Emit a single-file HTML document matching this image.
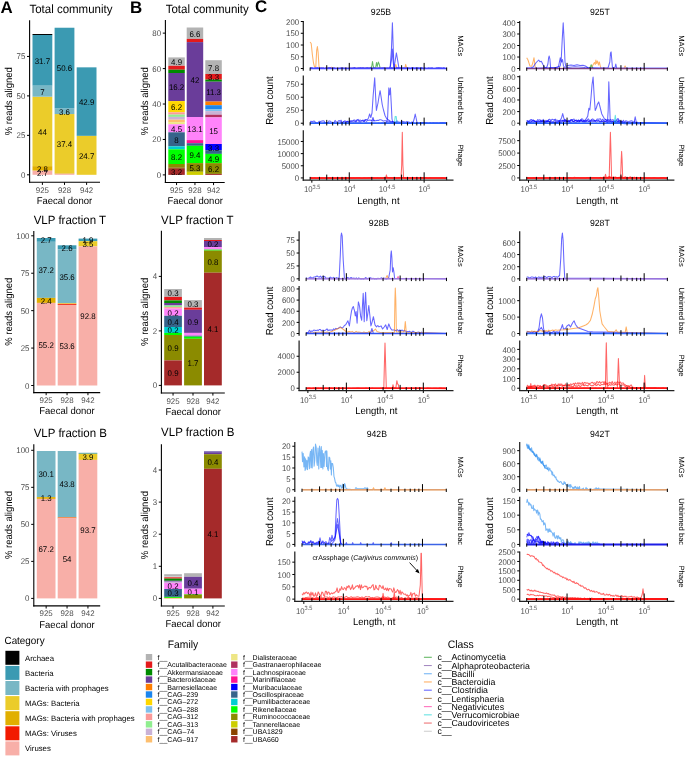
<!DOCTYPE html>
<html><head><meta charset="utf-8"><style>html,body{margin:0;padding:0;background:#fff;}body{width:685px;height:761px;overflow:hidden;position:relative;}text{font-family:"Liberation Sans", sans-serif;}</style></head><body>
<svg width="685" height="761" viewBox="0 0 685 761" text-rendering="geometricPrecision" style="position:absolute;left:0;top:0;will-change:transform;font-family:'Liberation Sans', sans-serif">
<rect width="685" height="761" fill="#fff"/>
<text x="0.50" y="12.50" font-size="16.9" font-weight="bold">A</text>
<text x="130.00" y="12.50" font-size="16.9" font-weight="bold">B</text>
<text x="255.10" y="12.35" font-size="16.9" font-weight="bold">C</text>
<text transform="translate(29.40 13.00) scale(1 1.045)" font-size="11.5">Total community</text>
<rect x="32.50" y="170.54" width="19.80" height="4.26" fill="#F8AFA8"/>
<rect x="32.50" y="166.12" width="19.80" height="4.42" fill="#E1AF00"/>
<rect x="32.50" y="96.69" width="19.80" height="69.43" fill="#EBCC2A"/>
<rect x="32.50" y="85.64" width="19.80" height="11.05" fill="#78B7C5"/>
<rect x="32.50" y="34.99" width="19.80" height="50.65" fill="#3B9AB2"/>
<rect x="32.50" y="34.00" width="19.80" height="0.99" fill="#000000"/>
<text transform="translate(42.40 176.07) scale(1 1.04)" font-size="7.9" text-anchor="middle">2.7</text>
<text transform="translate(42.40 171.73) scale(1 1.04)" font-size="7.9" text-anchor="middle">2.8</text>
<text transform="translate(42.40 134.81) scale(1 1.04)" font-size="7.9" text-anchor="middle">44</text>
<text transform="translate(42.40 94.57) scale(1 1.04)" font-size="7.9" text-anchor="middle">7</text>
<text transform="translate(42.40 63.72) scale(1 1.04)" font-size="7.9" text-anchor="middle">31.7</text>
<rect x="54.60" y="173.54" width="19.80" height="1.26" fill="#F8AFA8"/>
<rect x="54.60" y="173.06" width="19.80" height="0.47" fill="#E1AF00"/>
<rect x="54.60" y="114.05" width="19.80" height="59.02" fill="#EBCC2A"/>
<rect x="54.60" y="108.37" width="19.80" height="5.68" fill="#78B7C5"/>
<rect x="54.60" y="27.73" width="19.80" height="80.64" fill="#3B9AB2"/>
<text transform="translate(64.50 146.96) scale(1 1.04)" font-size="7.9" text-anchor="middle">37.4</text>
<text transform="translate(64.50 114.61) scale(1 1.04)" font-size="7.9" text-anchor="middle">3.6</text>
<text transform="translate(64.50 71.45) scale(1 1.04)" font-size="7.9" text-anchor="middle">50.6</text>
<rect x="76.70" y="135.82" width="19.80" height="38.98" fill="#EBCC2A"/>
<rect x="76.70" y="67.34" width="19.80" height="68.49" fill="#3B9AB2"/>
<text transform="translate(86.60 158.72) scale(1 1.04)" font-size="7.9" text-anchor="middle">24.7</text>
<text transform="translate(86.60 104.99) scale(1 1.04)" font-size="7.9" text-anchor="middle">42.9</text>
<line x1="29.60" y1="20.20" x2="29.60" y2="182.85" stroke="#000" stroke-width="1.1"/>
<line x1="29.05" y1="182.30" x2="100.00" y2="182.30" stroke="#000" stroke-width="1.1"/>
<line x1="27.00" y1="174.80" x2="29.60" y2="174.80" stroke="#000" stroke-width="1.0"/>
<text transform="translate(25.30 177.80) scale(1 1.05)" font-size="7.9" text-anchor="end" fill="#4d4d4d">0</text>
<line x1="27.00" y1="135.35" x2="29.60" y2="135.35" stroke="#000" stroke-width="1.0"/>
<text transform="translate(25.30 138.35) scale(1 1.05)" font-size="7.9" text-anchor="end" fill="#4d4d4d">25</text>
<line x1="27.00" y1="95.90" x2="29.60" y2="95.90" stroke="#000" stroke-width="1.0"/>
<text transform="translate(25.30 98.90) scale(1 1.05)" font-size="7.9" text-anchor="end" fill="#4d4d4d">50</text>
<line x1="27.00" y1="56.45" x2="29.60" y2="56.45" stroke="#000" stroke-width="1.0"/>
<text transform="translate(25.30 59.45) scale(1 1.05)" font-size="7.9" text-anchor="end" fill="#4d4d4d">75</text>
<line x1="42.40" y1="182.30" x2="42.40" y2="184.90" stroke="#000" stroke-width="1.0"/>
<text transform="translate(42.40 192.80) scale(1 1.03)" font-size="7.9" text-anchor="middle" fill="#4d4d4d">925</text>
<line x1="64.50" y1="182.30" x2="64.50" y2="184.90" stroke="#000" stroke-width="1.0"/>
<text transform="translate(64.50 192.80) scale(1 1.03)" font-size="7.9" text-anchor="middle" fill="#4d4d4d">928</text>
<line x1="86.60" y1="182.30" x2="86.60" y2="184.90" stroke="#000" stroke-width="1.0"/>
<text transform="translate(86.60 192.80) scale(1 1.03)" font-size="7.9" text-anchor="middle" fill="#4d4d4d">942</text>
<text transform="translate(64.40 203.90) scale(1 1.04)" font-size="9.5" text-anchor="middle">Faecal donor</text>
<text transform="translate(12.20 101.25) rotate(-90) scale(1 1.06)" font-size="9.5" text-anchor="middle">% reads aligned</text>
<text transform="translate(33.70 223.50) scale(1 1.045)" font-size="11.5">VLP fraction T</text>
<rect x="36.80" y="238.00" width="18.70" height="3.80" fill="#3B9AB2"/>
<rect x="36.80" y="241.80" width="18.70" height="56.10" fill="#78B7C5"/>
<rect x="36.80" y="297.90" width="18.70" height="5.00" fill="#E1AF00"/>
<rect x="36.80" y="302.90" width="18.70" height="82.60" fill="#F8AFA8"/>
<text transform="translate(46.15 243.30) scale(1 1.04)" font-size="7.9" text-anchor="middle">2.7</text>
<text transform="translate(46.15 273.25) scale(1 1.04)" font-size="7.9" text-anchor="middle">37.2</text>
<text transform="translate(46.15 303.80) scale(1 1.04)" font-size="7.9" text-anchor="middle">2.4</text>
<text transform="translate(46.15 347.60) scale(1 1.04)" font-size="7.9" text-anchor="middle">55.2</text>
<rect x="57.70" y="245.30" width="18.70" height="4.10" fill="#3B9AB2"/>
<rect x="57.70" y="249.40" width="18.70" height="53.80" fill="#78B7C5"/>
<rect x="57.70" y="303.20" width="18.70" height="0.70" fill="#EBCC2A"/>
<rect x="57.70" y="303.90" width="18.70" height="1.00" fill="#F21A00"/>
<rect x="57.70" y="304.90" width="18.70" height="80.60" fill="#F8AFA8"/>
<text transform="translate(67.05 250.75) scale(1 1.04)" font-size="7.9" text-anchor="middle">2.6</text>
<text transform="translate(67.05 279.70) scale(1 1.04)" font-size="7.9" text-anchor="middle">35.6</text>
<text transform="translate(67.05 348.60) scale(1 1.04)" font-size="7.9" text-anchor="middle">53.6</text>
<rect x="78.60" y="238.60" width="18.70" height="2.60" fill="#3B9AB2"/>
<rect x="78.60" y="241.20" width="18.70" height="5.20" fill="#EBCC2A"/>
<rect x="78.60" y="246.40" width="18.70" height="139.10" fill="#F8AFA8"/>
<text transform="translate(87.95 243.30) scale(1 1.04)" font-size="7.9" text-anchor="middle">1.9</text>
<text transform="translate(87.95 247.20) scale(1 1.04)" font-size="7.9" text-anchor="middle">3.5</text>
<text transform="translate(87.95 319.35) scale(1 1.04)" font-size="7.9" text-anchor="middle">92.8</text>
<line x1="33.80" y1="231.00" x2="33.80" y2="393.15" stroke="#000" stroke-width="1.1"/>
<line x1="33.25" y1="392.60" x2="100.20" y2="392.60" stroke="#000" stroke-width="1.1"/>
<line x1="31.20" y1="385.50" x2="33.80" y2="385.50" stroke="#000" stroke-width="1.0"/>
<text transform="translate(29.50 388.50) scale(1 1.05)" font-size="7.9" text-anchor="end" fill="#4d4d4d">0</text>
<line x1="31.20" y1="348.07" x2="33.80" y2="348.07" stroke="#000" stroke-width="1.0"/>
<text transform="translate(29.50 351.08) scale(1 1.05)" font-size="7.9" text-anchor="end" fill="#4d4d4d">25</text>
<line x1="31.20" y1="310.65" x2="33.80" y2="310.65" stroke="#000" stroke-width="1.0"/>
<text transform="translate(29.50 313.65) scale(1 1.05)" font-size="7.9" text-anchor="end" fill="#4d4d4d">50</text>
<line x1="31.20" y1="273.23" x2="33.80" y2="273.23" stroke="#000" stroke-width="1.0"/>
<text transform="translate(29.50 276.23) scale(1 1.05)" font-size="7.9" text-anchor="end" fill="#4d4d4d">75</text>
<line x1="31.20" y1="235.80" x2="33.80" y2="235.80" stroke="#000" stroke-width="1.0"/>
<text transform="translate(29.50 238.80) scale(1 1.05)" font-size="7.9" text-anchor="end" fill="#4d4d4d">100</text>
<line x1="46.15" y1="392.60" x2="46.15" y2="395.20" stroke="#000" stroke-width="1.0"/>
<text transform="translate(46.15 403.10) scale(1 1.03)" font-size="7.9" text-anchor="middle" fill="#4d4d4d">925</text>
<line x1="67.05" y1="392.60" x2="67.05" y2="395.20" stroke="#000" stroke-width="1.0"/>
<text transform="translate(67.05 403.10) scale(1 1.03)" font-size="7.9" text-anchor="middle" fill="#4d4d4d">928</text>
<line x1="87.95" y1="392.60" x2="87.95" y2="395.20" stroke="#000" stroke-width="1.0"/>
<text transform="translate(87.95 403.10) scale(1 1.03)" font-size="7.9" text-anchor="middle" fill="#4d4d4d">942</text>
<text transform="translate(67.00 414.20) scale(1 1.04)" font-size="9.5" text-anchor="middle">Faecal donor</text>
<text transform="translate(12.20 311.80) rotate(-90) scale(1 1.06)" font-size="9.5" text-anchor="middle">% reads aligned</text>
<text transform="translate(33.70 436.60) scale(1 1.045)" font-size="11.5">VLP fraction B</text>
<rect x="36.80" y="451.00" width="18.70" height="46.10" fill="#78B7C5"/>
<rect x="36.80" y="497.10" width="18.70" height="1.80" fill="#E1AF00"/>
<rect x="36.80" y="498.90" width="18.70" height="99.50" fill="#F8AFA8"/>
<text transform="translate(46.15 477.45) scale(1 1.04)" font-size="7.9" text-anchor="middle">30.1</text>
<text transform="translate(46.15 501.40) scale(1 1.04)" font-size="7.9" text-anchor="middle">1.3</text>
<text transform="translate(46.15 552.05) scale(1 1.04)" font-size="7.9" text-anchor="middle">67.2</text>
<rect x="57.70" y="451.00" width="18.70" height="66.10" fill="#78B7C5"/>
<rect x="57.70" y="517.10" width="18.70" height="0.50" fill="#EBCC2A"/>
<rect x="57.70" y="517.60" width="18.70" height="0.70" fill="#F21A00"/>
<rect x="57.70" y="518.30" width="18.70" height="80.10" fill="#F8AFA8"/>
<text transform="translate(67.05 487.45) scale(1 1.04)" font-size="7.9" text-anchor="middle">43.8</text>
<text transform="translate(67.05 561.75) scale(1 1.04)" font-size="7.9" text-anchor="middle">54</text>
<rect x="78.60" y="452.80" width="18.70" height="1.00" fill="#3B9AB2"/>
<rect x="78.60" y="453.80" width="18.70" height="6.10" fill="#EBCC2A"/>
<rect x="78.60" y="459.90" width="18.70" height="138.50" fill="#F8AFA8"/>
<text transform="translate(87.95 460.25) scale(1 1.04)" font-size="7.9" text-anchor="middle">3.9</text>
<text transform="translate(87.95 532.55) scale(1 1.04)" font-size="7.9" text-anchor="middle">93.7</text>
<line x1="33.80" y1="444.20" x2="33.80" y2="606.45" stroke="#000" stroke-width="1.1"/>
<line x1="33.25" y1="605.90" x2="100.20" y2="605.90" stroke="#000" stroke-width="1.1"/>
<line x1="31.20" y1="598.40" x2="33.80" y2="598.40" stroke="#000" stroke-width="1.0"/>
<text transform="translate(29.50 601.40) scale(1 1.05)" font-size="7.9" text-anchor="end" fill="#4d4d4d">0</text>
<line x1="31.20" y1="561.38" x2="33.80" y2="561.38" stroke="#000" stroke-width="1.0"/>
<text transform="translate(29.50 564.38) scale(1 1.05)" font-size="7.9" text-anchor="end" fill="#4d4d4d">25</text>
<line x1="31.20" y1="524.35" x2="33.80" y2="524.35" stroke="#000" stroke-width="1.0"/>
<text transform="translate(29.50 527.35) scale(1 1.05)" font-size="7.9" text-anchor="end" fill="#4d4d4d">50</text>
<line x1="31.20" y1="487.32" x2="33.80" y2="487.32" stroke="#000" stroke-width="1.0"/>
<text transform="translate(29.50 490.33) scale(1 1.05)" font-size="7.9" text-anchor="end" fill="#4d4d4d">75</text>
<line x1="31.20" y1="450.30" x2="33.80" y2="450.30" stroke="#000" stroke-width="1.0"/>
<text transform="translate(29.50 453.30) scale(1 1.05)" font-size="7.9" text-anchor="end" fill="#4d4d4d">100</text>
<line x1="46.15" y1="605.90" x2="46.15" y2="608.50" stroke="#000" stroke-width="1.0"/>
<text transform="translate(46.15 616.40) scale(1 1.03)" font-size="7.9" text-anchor="middle" fill="#4d4d4d">925</text>
<line x1="67.05" y1="605.90" x2="67.05" y2="608.50" stroke="#000" stroke-width="1.0"/>
<text transform="translate(67.05 616.40) scale(1 1.03)" font-size="7.9" text-anchor="middle" fill="#4d4d4d">928</text>
<line x1="87.95" y1="605.90" x2="87.95" y2="608.50" stroke="#000" stroke-width="1.0"/>
<text transform="translate(87.95 616.40) scale(1 1.03)" font-size="7.9" text-anchor="middle" fill="#4d4d4d">942</text>
<text transform="translate(67.00 627.50) scale(1 1.04)" font-size="9.5" text-anchor="middle">Faecal donor</text>
<text transform="translate(12.20 525.05) rotate(-90) scale(1 1.06)" font-size="9.5" text-anchor="middle">% reads aligned</text>
<text transform="translate(165.70 13.00) scale(1 1.045)" font-size="11.5">Total community</text>
<rect x="168.30" y="57.40" width="16.50" height="8.40" fill="#b3b3b3"/>
<rect x="168.30" y="65.80" width="16.50" height="3.90" fill="#E31A1C"/>
<rect x="168.30" y="69.70" width="16.50" height="3.30" fill="#008b00"/>
<rect x="168.30" y="73.00" width="16.50" height="28.10" fill="#6A3D9A"/>
<rect x="168.30" y="101.10" width="16.50" height="11.20" fill="#ffd700"/>
<rect x="168.30" y="112.30" width="16.50" height="2.30" fill="#FB9A99"/>
<rect x="168.30" y="114.60" width="16.50" height="2.30" fill="#90ee90"/>
<rect x="168.30" y="116.90" width="16.50" height="2.80" fill="#CAB2D6"/>
<rect x="168.30" y="119.70" width="16.50" height="2.40" fill="#FDBF6F"/>
<rect x="168.30" y="122.10" width="16.50" height="2.20" fill="#eee685"/>
<rect x="168.30" y="124.30" width="16.50" height="8.00" fill="#ff83fa"/>
<rect x="168.30" y="132.30" width="16.50" height="14.00" fill="#36648b"/>
<rect x="168.30" y="146.30" width="16.50" height="3.00" fill="#00ced1"/>
<rect x="168.30" y="149.30" width="16.50" height="14.70" fill="#00ff00"/>
<rect x="168.30" y="164.00" width="16.50" height="3.70" fill="#8b8b00"/>
<rect x="168.30" y="167.70" width="16.50" height="1.10" fill="#8b4500"/>
<rect x="168.30" y="168.80" width="16.50" height="6.10" fill="#a52a2a"/>
<text transform="translate(176.55 65.00) scale(1 1.04)" font-size="7.9" text-anchor="middle">4.9</text>
<text transform="translate(176.55 90.45) scale(1 1.04)" font-size="7.9" text-anchor="middle">16.2</text>
<text transform="translate(176.55 110.10) scale(1 1.04)" font-size="7.9" text-anchor="middle">6.2</text>
<text transform="translate(176.55 131.70) scale(1 1.04)" font-size="7.9" text-anchor="middle">4.5</text>
<text transform="translate(176.55 142.70) scale(1 1.04)" font-size="7.9" text-anchor="middle">8</text>
<text transform="translate(176.55 160.05) scale(1 1.04)" font-size="7.9" text-anchor="middle">8.2</text>
<text transform="translate(176.55 175.25) scale(1 1.04)" font-size="7.9" text-anchor="middle">3.2</text>
<rect x="186.70" y="27.50" width="16.50" height="11.40" fill="#b3b3b3"/>
<rect x="186.70" y="38.90" width="16.50" height="3.20" fill="#E31A1C"/>
<rect x="186.70" y="42.10" width="16.50" height="74.90" fill="#6A3D9A"/>
<rect x="186.70" y="117.00" width="16.50" height="23.10" fill="#ff83fa"/>
<rect x="186.70" y="140.10" width="16.50" height="3.10" fill="#ff1493"/>
<rect x="186.70" y="143.20" width="16.50" height="2.60" fill="#36648b"/>
<rect x="186.70" y="145.80" width="16.50" height="17.30" fill="#00ff00"/>
<rect x="186.70" y="163.10" width="16.50" height="8.70" fill="#8b8b00"/>
<rect x="186.70" y="171.80" width="16.50" height="3.10" fill="#cdcd00"/>
<text transform="translate(194.95 36.60) scale(1 1.04)" font-size="7.9" text-anchor="middle">6.6</text>
<text transform="translate(194.95 82.95) scale(1 1.04)" font-size="7.9" text-anchor="middle">42</text>
<text transform="translate(194.95 131.95) scale(1 1.04)" font-size="7.9" text-anchor="middle">13.1</text>
<text transform="translate(194.95 157.85) scale(1 1.04)" font-size="7.9" text-anchor="middle">9.4</text>
<text transform="translate(194.95 170.85) scale(1 1.04)" font-size="7.9" text-anchor="middle">5.3</text>
<rect x="205.30" y="60.20" width="16.50" height="13.80" fill="#b3b3b3"/>
<rect x="205.30" y="74.00" width="16.50" height="5.60" fill="#E31A1C"/>
<rect x="205.30" y="79.60" width="16.50" height="2.10" fill="#008b00"/>
<rect x="205.30" y="81.70" width="16.50" height="19.90" fill="#6A3D9A"/>
<rect x="205.30" y="101.60" width="16.50" height="3.60" fill="#FF7F00"/>
<rect x="205.30" y="105.20" width="16.50" height="3.90" fill="#1c86ee"/>
<rect x="205.30" y="109.10" width="16.50" height="2.00" fill="#7ec0ee"/>
<rect x="205.30" y="111.10" width="16.50" height="3.60" fill="#CAB2D6"/>
<rect x="205.30" y="114.70" width="16.50" height="2.70" fill="#b03060"/>
<rect x="205.30" y="117.40" width="16.50" height="26.60" fill="#ff83fa"/>
<rect x="205.30" y="144.00" width="16.50" height="6.20" fill="#0000ff"/>
<rect x="205.30" y="150.20" width="16.50" height="3.70" fill="#36648b"/>
<rect x="205.30" y="153.90" width="16.50" height="9.20" fill="#00ff00"/>
<rect x="205.30" y="163.10" width="16.50" height="10.80" fill="#8b8b00"/>
<rect x="205.30" y="173.90" width="16.50" height="1.00" fill="#a52a2a"/>
<text transform="translate(213.55 70.50) scale(1 1.04)" font-size="7.9" text-anchor="middle">7.8</text>
<text transform="translate(213.55 80.20) scale(1 1.04)" font-size="7.9" text-anchor="middle">3.3</text>
<text transform="translate(213.55 95.05) scale(1 1.04)" font-size="7.9" text-anchor="middle">11.3</text>
<text transform="translate(213.55 134.10) scale(1 1.04)" font-size="7.9" text-anchor="middle">15</text>
<text transform="translate(213.55 150.50) scale(1 1.04)" font-size="7.9" text-anchor="middle">3.3</text>
<text transform="translate(213.55 161.90) scale(1 1.04)" font-size="7.9" text-anchor="middle">4.9</text>
<text transform="translate(213.55 171.90) scale(1 1.04)" font-size="7.9" text-anchor="middle">6.2</text>
<line x1="165.40" y1="19.90" x2="165.40" y2="183.05" stroke="#000" stroke-width="1.1"/>
<line x1="164.85" y1="182.50" x2="224.70" y2="182.50" stroke="#000" stroke-width="1.1"/>
<line x1="162.80" y1="174.90" x2="165.40" y2="174.90" stroke="#000" stroke-width="1.0"/>
<text transform="translate(161.10 177.90) scale(1 1.05)" font-size="7.9" text-anchor="end" fill="#4d4d4d">0</text>
<line x1="162.80" y1="139.46" x2="165.40" y2="139.46" stroke="#000" stroke-width="1.0"/>
<text transform="translate(161.10 142.46) scale(1 1.05)" font-size="7.9" text-anchor="end" fill="#4d4d4d">20</text>
<line x1="162.80" y1="104.02" x2="165.40" y2="104.02" stroke="#000" stroke-width="1.0"/>
<text transform="translate(161.10 107.02) scale(1 1.05)" font-size="7.9" text-anchor="end" fill="#4d4d4d">40</text>
<line x1="162.80" y1="68.58" x2="165.40" y2="68.58" stroke="#000" stroke-width="1.0"/>
<text transform="translate(161.10 71.58) scale(1 1.05)" font-size="7.9" text-anchor="end" fill="#4d4d4d">60</text>
<line x1="162.80" y1="33.14" x2="165.40" y2="33.14" stroke="#000" stroke-width="1.0"/>
<text transform="translate(161.10 36.14) scale(1 1.05)" font-size="7.9" text-anchor="end" fill="#4d4d4d">80</text>
<line x1="176.55" y1="182.50" x2="176.55" y2="185.10" stroke="#000" stroke-width="1.0"/>
<text transform="translate(176.55 192.90) scale(1 1.03)" font-size="7.9" text-anchor="middle" fill="#4d4d4d">925</text>
<line x1="194.95" y1="182.50" x2="194.95" y2="185.10" stroke="#000" stroke-width="1.0"/>
<text transform="translate(194.95 192.90) scale(1 1.03)" font-size="7.9" text-anchor="middle" fill="#4d4d4d">928</text>
<line x1="213.55" y1="182.50" x2="213.55" y2="185.10" stroke="#000" stroke-width="1.0"/>
<text transform="translate(213.55 192.90) scale(1 1.03)" font-size="7.9" text-anchor="middle" fill="#4d4d4d">942</text>
<text transform="translate(195.10 204.00) scale(1 1.04)" font-size="9.5" text-anchor="middle">Faecal donor</text>
<text transform="translate(147.90 101.20) rotate(-90) scale(1 1.06)" font-size="9.5" text-anchor="middle">% reads aligned</text>
<text transform="translate(161.10 223.60) scale(1 1.045)" font-size="11.5">VLP fraction T</text>
<rect x="164.20" y="289.00" width="17.70" height="7.90" fill="#b3b3b3"/>
<rect x="164.20" y="296.90" width="17.70" height="3.50" fill="#E31A1C"/>
<rect x="164.20" y="300.40" width="17.70" height="2.60" fill="#008b00"/>
<rect x="164.20" y="303.00" width="17.70" height="2.50" fill="#6A3D9A"/>
<rect x="164.20" y="305.50" width="17.70" height="1.60" fill="#90ee90"/>
<rect x="164.20" y="307.10" width="17.70" height="1.50" fill="#FB9A99"/>
<rect x="164.20" y="308.60" width="17.70" height="7.20" fill="#ff83fa"/>
<rect x="164.20" y="315.80" width="17.70" height="11.20" fill="#36648b"/>
<rect x="164.20" y="327.00" width="17.70" height="5.90" fill="#00ced1"/>
<rect x="164.20" y="332.90" width="17.70" height="2.10" fill="#00ff00"/>
<rect x="164.20" y="335.00" width="17.70" height="25.40" fill="#8b8b00"/>
<rect x="164.20" y="360.40" width="17.70" height="25.00" fill="#a52a2a"/>
<text transform="translate(173.05 296.35) scale(1 1.04)" font-size="7.9" text-anchor="middle">0.3</text>
<text transform="translate(173.05 315.60) scale(1 1.04)" font-size="7.9" text-anchor="middle">0.2</text>
<text transform="translate(173.05 324.80) scale(1 1.04)" font-size="7.9" text-anchor="middle">0.4</text>
<text transform="translate(173.05 333.35) scale(1 1.04)" font-size="7.9" text-anchor="middle">0.2</text>
<text transform="translate(173.05 351.10) scale(1 1.04)" font-size="7.9" text-anchor="middle">0.9</text>
<text transform="translate(173.05 376.30) scale(1 1.04)" font-size="7.9" text-anchor="middle">0.9</text>
<rect x="184.10" y="300.10" width="17.80" height="7.50" fill="#b3b3b3"/>
<rect x="184.10" y="307.60" width="17.80" height="2.20" fill="#E31A1C"/>
<rect x="184.10" y="309.80" width="17.80" height="23.10" fill="#6A3D9A"/>
<rect x="184.10" y="332.90" width="17.80" height="2.80" fill="#ff83fa"/>
<rect x="184.10" y="335.70" width="17.80" height="1.00" fill="#36648b"/>
<rect x="184.10" y="336.70" width="17.80" height="2.10" fill="#00ff00"/>
<rect x="184.10" y="338.80" width="17.80" height="46.60" fill="#8b8b00"/>
<text transform="translate(193.00 307.25) scale(1 1.04)" font-size="7.9" text-anchor="middle">0.3</text>
<text transform="translate(193.00 324.75) scale(1 1.04)" font-size="7.9" text-anchor="middle">0.9</text>
<text transform="translate(193.00 365.50) scale(1 1.04)" font-size="7.9" text-anchor="middle">1.7</text>
<rect x="204.00" y="238.00" width="17.80" height="2.00" fill="#b3b3b3"/>
<rect x="204.00" y="240.00" width="17.80" height="1.00" fill="#E31A1C"/>
<rect x="204.00" y="241.00" width="17.80" height="6.10" fill="#6A3D9A"/>
<rect x="204.00" y="247.10" width="17.80" height="2.50" fill="#ff83fa"/>
<rect x="204.00" y="249.60" width="17.80" height="1.00" fill="#00ff00"/>
<rect x="204.00" y="250.60" width="17.80" height="22.10" fill="#8b8b00"/>
<rect x="204.00" y="272.70" width="17.80" height="112.70" fill="#a52a2a"/>
<text transform="translate(212.90 247.45) scale(1 1.04)" font-size="7.9" text-anchor="middle">0.2</text>
<text transform="translate(212.90 265.05) scale(1 1.04)" font-size="7.9" text-anchor="middle">0.8</text>
<text transform="translate(212.90 332.45) scale(1 1.04)" font-size="7.9" text-anchor="middle">4.1</text>
<line x1="161.40" y1="230.70" x2="161.40" y2="393.55" stroke="#000" stroke-width="1.1"/>
<line x1="160.85" y1="393.00" x2="224.80" y2="393.00" stroke="#000" stroke-width="1.1"/>
<line x1="158.80" y1="385.40" x2="161.40" y2="385.40" stroke="#000" stroke-width="1.0"/>
<text transform="translate(157.10 388.40) scale(1 1.05)" font-size="7.9" text-anchor="end" fill="#4d4d4d">0</text>
<line x1="158.80" y1="330.90" x2="161.40" y2="330.90" stroke="#000" stroke-width="1.0"/>
<text transform="translate(157.10 333.90) scale(1 1.05)" font-size="7.9" text-anchor="end" fill="#4d4d4d">2</text>
<line x1="158.80" y1="276.40" x2="161.40" y2="276.40" stroke="#000" stroke-width="1.0"/>
<text transform="translate(157.10 279.40) scale(1 1.05)" font-size="7.9" text-anchor="end" fill="#4d4d4d">4</text>
<line x1="173.05" y1="393.00" x2="173.05" y2="395.60" stroke="#000" stroke-width="1.0"/>
<text transform="translate(173.05 403.50) scale(1 1.03)" font-size="7.9" text-anchor="middle" fill="#4d4d4d">925</text>
<line x1="193.00" y1="393.00" x2="193.00" y2="395.60" stroke="#000" stroke-width="1.0"/>
<text transform="translate(193.00 403.50) scale(1 1.03)" font-size="7.9" text-anchor="middle" fill="#4d4d4d">928</text>
<line x1="212.90" y1="393.00" x2="212.90" y2="395.60" stroke="#000" stroke-width="1.0"/>
<text transform="translate(212.90 403.50) scale(1 1.03)" font-size="7.9" text-anchor="middle" fill="#4d4d4d">942</text>
<text transform="translate(193.20 414.60) scale(1 1.04)" font-size="9.5" text-anchor="middle">Faecal donor</text>
<text transform="translate(147.90 311.85) rotate(-90) scale(1 1.06)" font-size="9.5" text-anchor="middle">% reads aligned</text>
<text transform="translate(161.10 436.40) scale(1 1.045)" font-size="11.5">VLP fraction B</text>
<rect x="164.20" y="574.20" width="17.70" height="2.60" fill="#b3b3b3"/>
<rect x="164.20" y="576.80" width="17.70" height="0.50" fill="#ffffff"/>
<rect x="164.20" y="577.30" width="17.70" height="1.30" fill="#E31A1C"/>
<rect x="164.20" y="578.60" width="17.70" height="2.20" fill="#008b00"/>
<rect x="164.20" y="580.80" width="17.70" height="0.90" fill="#6A3D9A"/>
<rect x="164.20" y="581.70" width="17.70" height="1.20" fill="#CAB2D6"/>
<rect x="164.20" y="582.90" width="17.70" height="6.10" fill="#ff83fa"/>
<rect x="164.20" y="589.00" width="17.70" height="7.90" fill="#36648b"/>
<rect x="164.20" y="596.90" width="17.70" height="1.00" fill="#00ff00"/>
<rect x="164.20" y="597.90" width="17.70" height="0.50" fill="#FF7F00"/>
<text transform="translate(173.05 589.35) scale(1 1.04)" font-size="7.9" text-anchor="middle">0.2</text>
<text transform="translate(173.05 596.35) scale(1 1.04)" font-size="7.9" text-anchor="middle">0.3</text>
<rect x="184.10" y="573.20" width="17.80" height="3.60" fill="#b3b3b3"/>
<rect x="184.10" y="576.80" width="17.80" height="11.90" fill="#6A3D9A"/>
<rect x="184.10" y="588.70" width="17.80" height="5.40" fill="#ff83fa"/>
<rect x="184.10" y="594.10" width="17.80" height="0.50" fill="#00ff00"/>
<rect x="184.10" y="594.60" width="17.80" height="3.80" fill="#8b8b00"/>
<text transform="translate(193.00 586.15) scale(1 1.04)" font-size="7.9" text-anchor="middle">0.4</text>
<text transform="translate(193.00 594.80) scale(1 1.04)" font-size="7.9" text-anchor="middle">0.1</text>
<rect x="204.00" y="451.40" width="17.80" height="1.30" fill="#4b2f9a"/>
<rect x="204.00" y="452.70" width="17.80" height="1.50" fill="#6A3D9A"/>
<rect x="204.00" y="454.20" width="17.80" height="14.60" fill="#8b8b00"/>
<rect x="204.00" y="468.80" width="17.80" height="129.60" fill="#a52a2a"/>
<text transform="translate(212.90 464.90) scale(1 1.04)" font-size="7.9" text-anchor="middle">0.4</text>
<text transform="translate(212.90 537.00) scale(1 1.04)" font-size="7.9" text-anchor="middle">4.1</text>
<line x1="161.40" y1="444.20" x2="161.40" y2="606.55" stroke="#000" stroke-width="1.1"/>
<line x1="160.85" y1="606.00" x2="224.80" y2="606.00" stroke="#000" stroke-width="1.1"/>
<line x1="158.80" y1="598.40" x2="161.40" y2="598.40" stroke="#000" stroke-width="1.0"/>
<text transform="translate(157.10 601.40) scale(1 1.05)" font-size="7.9" text-anchor="end" fill="#4d4d4d">0</text>
<line x1="158.80" y1="566.30" x2="161.40" y2="566.30" stroke="#000" stroke-width="1.0"/>
<text transform="translate(157.10 569.30) scale(1 1.05)" font-size="7.9" text-anchor="end" fill="#4d4d4d">1</text>
<line x1="158.80" y1="534.20" x2="161.40" y2="534.20" stroke="#000" stroke-width="1.0"/>
<text transform="translate(157.10 537.20) scale(1 1.05)" font-size="7.9" text-anchor="end" fill="#4d4d4d">2</text>
<line x1="158.80" y1="502.10" x2="161.40" y2="502.10" stroke="#000" stroke-width="1.0"/>
<text transform="translate(157.10 505.10) scale(1 1.05)" font-size="7.9" text-anchor="end" fill="#4d4d4d">3</text>
<line x1="158.80" y1="470.00" x2="161.40" y2="470.00" stroke="#000" stroke-width="1.0"/>
<text transform="translate(157.10 473.00) scale(1 1.05)" font-size="7.9" text-anchor="end" fill="#4d4d4d">4</text>
<line x1="173.05" y1="606.00" x2="173.05" y2="608.60" stroke="#000" stroke-width="1.0"/>
<text transform="translate(173.05 616.20) scale(1 1.03)" font-size="7.9" text-anchor="middle" fill="#4d4d4d">925</text>
<line x1="193.00" y1="606.00" x2="193.00" y2="608.60" stroke="#000" stroke-width="1.0"/>
<text transform="translate(193.00 616.20) scale(1 1.03)" font-size="7.9" text-anchor="middle" fill="#4d4d4d">928</text>
<line x1="212.90" y1="606.00" x2="212.90" y2="608.60" stroke="#000" stroke-width="1.0"/>
<text transform="translate(212.90 616.20) scale(1 1.03)" font-size="7.9" text-anchor="middle" fill="#4d4d4d">942</text>
<text transform="translate(193.20 627.40) scale(1 1.04)" font-size="9.5" text-anchor="middle">Faecal donor</text>
<text transform="translate(147.90 525.10) rotate(-90) scale(1 1.06)" font-size="9.5" text-anchor="middle">% reads aligned</text>
<text transform="translate(4.50 644.20) scale(1 1.05)" font-size="9.9">Category</text>
<rect x="5.40" y="650.80" width="14.00" height="14.00" fill="#000000"/>
<text x="25.00" y="660.55" font-size="7.8">Archaea</text>
<rect x="5.40" y="665.90" width="14.00" height="14.00" fill="#3B9AB2"/>
<text x="25.00" y="675.65" font-size="7.8">Bacteria</text>
<rect x="5.40" y="681.00" width="14.00" height="14.00" fill="#78B7C5"/>
<text x="25.00" y="690.75" font-size="7.8">Bacteria with prophages</text>
<rect x="5.40" y="696.10" width="14.00" height="14.00" fill="#EBCC2A"/>
<text x="25.00" y="705.85" font-size="7.8">MAGs: Bacteria</text>
<rect x="5.40" y="711.20" width="14.00" height="14.00" fill="#E1AF00"/>
<text x="25.00" y="720.95" font-size="7.8">MAGs: Bacteria with prophages</text>
<rect x="5.40" y="726.30" width="14.00" height="14.00" fill="#F21A00"/>
<text x="25.00" y="736.05" font-size="7.8">MAGs: Viruses</text>
<rect x="5.40" y="741.40" width="14.00" height="14.00" fill="#F8AFA8"/>
<text x="25.00" y="751.15" font-size="7.8">Viruses</text>
<text transform="translate(167.80 647.50) scale(1 1.05)" font-size="10.3">Family</text>
<rect x="145.80" y="654.00" width="6.40" height="6.40" fill="#b3b3b3"/>
<text x="157.60" y="659.68" font-size="7.0">f__</text>
<rect x="145.80" y="661.46" width="6.40" height="6.40" fill="#E31A1C"/>
<text x="157.60" y="667.14" font-size="7.0">f__Acutalibacteraceae</text>
<rect x="145.80" y="668.92" width="6.40" height="6.40" fill="#008b00"/>
<text x="157.60" y="674.60" font-size="7.0">f__Akkermansiaceae</text>
<rect x="145.80" y="676.38" width="6.40" height="6.40" fill="#6A3D9A"/>
<text x="157.60" y="682.06" font-size="7.0">f__Bacteroidaceae</text>
<rect x="145.80" y="683.84" width="6.40" height="6.40" fill="#FF7F00"/>
<text x="157.60" y="689.52" font-size="7.0">f__Barnesiellaceae</text>
<rect x="145.80" y="691.30" width="6.40" height="6.40" fill="#1c86ee"/>
<text x="157.60" y="696.98" font-size="7.0">f__CAG&#8211;239</text>
<rect x="145.80" y="698.76" width="6.40" height="6.40" fill="#ffd700"/>
<text x="157.60" y="704.44" font-size="7.0">f__CAG&#8211;272</text>
<rect x="145.80" y="706.22" width="6.40" height="6.40" fill="#7ec0ee"/>
<text x="157.60" y="711.90" font-size="7.0">f__CAG&#8211;288</text>
<rect x="145.80" y="713.68" width="6.40" height="6.40" fill="#FB9A99"/>
<text x="157.60" y="719.36" font-size="7.0">f__CAG&#8211;312</text>
<rect x="145.80" y="721.14" width="6.40" height="6.40" fill="#90ee90"/>
<text x="157.60" y="726.82" font-size="7.0">f__CAG&#8211;313</text>
<rect x="145.80" y="728.60" width="6.40" height="6.40" fill="#CAB2D6"/>
<text x="157.60" y="734.28" font-size="7.0">f__CAG&#8211;74</text>
<rect x="145.80" y="736.06" width="6.40" height="6.40" fill="#FDBF6F"/>
<text x="157.60" y="741.74" font-size="7.0">f__CAG&#8211;917</text>
<rect x="231.10" y="654.00" width="6.40" height="6.40" fill="#eee685"/>
<text x="242.90" y="659.68" font-size="7.0">f__Dialisteraceae</text>
<rect x="231.10" y="661.46" width="6.40" height="6.40" fill="#b03060"/>
<text x="242.90" y="667.14" font-size="7.0">f__Gastranaerophilaceae</text>
<rect x="231.10" y="668.92" width="6.40" height="6.40" fill="#ff83fa"/>
<text x="242.90" y="674.60" font-size="7.0">f__Lachnospiraceae</text>
<rect x="231.10" y="676.38" width="6.40" height="6.40" fill="#ff1493"/>
<text x="242.90" y="682.06" font-size="7.0">f__Marinifilaceae</text>
<rect x="231.10" y="683.84" width="6.40" height="6.40" fill="#0000ff"/>
<text x="242.90" y="689.52" font-size="7.0">f__Muribaculaceae</text>
<rect x="231.10" y="691.30" width="6.40" height="6.40" fill="#36648b"/>
<text x="242.90" y="696.98" font-size="7.0">f__Oscillospiraceae</text>
<rect x="231.10" y="698.76" width="6.40" height="6.40" fill="#00ced1"/>
<text x="242.90" y="704.44" font-size="7.0">f__Pumilibacteraceae</text>
<rect x="231.10" y="706.22" width="6.40" height="6.40" fill="#00ff00"/>
<text x="242.90" y="711.90" font-size="7.0">f__Rikenellaceae</text>
<rect x="231.10" y="713.68" width="6.40" height="6.40" fill="#8b8b00"/>
<text x="242.90" y="719.36" font-size="7.0">f__Ruminococcaceae</text>
<rect x="231.10" y="721.14" width="6.40" height="6.40" fill="#cdcd00"/>
<text x="242.90" y="726.82" font-size="7.0">f__Tannerellaceae</text>
<rect x="231.10" y="728.60" width="6.40" height="6.40" fill="#8b4500"/>
<text x="242.90" y="734.28" font-size="7.0">f__UBA1829</text>
<rect x="231.10" y="736.06" width="6.40" height="6.40" fill="#a52a2a"/>
<text x="242.90" y="741.74" font-size="7.0">f__UBA660</text>
<text transform="translate(447.70 647.50) scale(1 1.05)" font-size="10.4">Class</text>
<line x1="423.90" y1="657.30" x2="431.80" y2="657.30" stroke="#008b00" stroke-width="1.1" stroke-opacity="0.6"/>
<text x="437.40" y="660.41" font-size="8.75">c__Actinomycetia</text>
<line x1="423.90" y1="665.52" x2="431.80" y2="665.52" stroke="#6A3D9A" stroke-width="1.1" stroke-opacity="0.6"/>
<text x="437.40" y="668.63" font-size="8.75">c__Alphaproteobacteria</text>
<line x1="423.90" y1="673.74" x2="431.80" y2="673.74" stroke="#1c86ee" stroke-width="1.1" stroke-opacity="0.6"/>
<text x="437.40" y="676.85" font-size="8.75">c__Bacilli</text>
<line x1="423.90" y1="681.96" x2="431.80" y2="681.96" stroke="#FF7F00" stroke-width="1.1" stroke-opacity="0.6"/>
<text x="437.40" y="685.07" font-size="8.75">c__Bacteroidia</text>
<line x1="423.90" y1="690.18" x2="431.80" y2="690.18" stroke="#0000ff" stroke-width="1.1" stroke-opacity="0.6"/>
<text x="437.40" y="693.29" font-size="8.75">c__Clostridia</text>
<line x1="423.90" y1="698.40" x2="431.80" y2="698.40" stroke="#8b4500" stroke-width="1.1" stroke-opacity="0.6"/>
<text x="437.40" y="701.51" font-size="8.75">c__Lentisphaeria</text>
<line x1="423.90" y1="706.62" x2="431.80" y2="706.62" stroke="#ff1493" stroke-width="1.1" stroke-opacity="0.6"/>
<text x="437.40" y="709.73" font-size="8.75">c__Negativicutes</text>
<line x1="423.90" y1="714.84" x2="431.80" y2="714.84" stroke="#00ced1" stroke-width="1.1" stroke-opacity="0.6"/>
<text x="437.40" y="717.95" font-size="8.75">c__Verrucomicrobiae</text>
<line x1="423.90" y1="723.06" x2="431.80" y2="723.06" stroke="#E31A1C" stroke-width="1.1" stroke-opacity="0.6"/>
<text x="437.40" y="726.17" font-size="8.75">c__Caudoviricetes</text>
<line x1="423.90" y1="731.28" x2="431.80" y2="731.28" stroke="#b3b3b3" stroke-width="1.1" stroke-opacity="0.6"/>
<text x="437.40" y="734.39" font-size="8.75">c__</text>
<text transform="translate(381.00 15.30) scale(1 1.04)" font-size="8.7" text-anchor="middle">925B</text>
<polyline points="310.1,42.0 311.2,43.5 312.4,55.0 313.5,63.0 314.5,66.8 315.8,66.8 316.7,50.0 317.4,46.5 318.1,52.0 319.0,66.5 320.2,68.2 330.0,68.0 331.5,67.2 333.0,68.3 394.5,68.3 395.8,64.5 396.9,68.3 404.8,68.3 405.7,64.4 406.8,68.3 446.7,68.5" fill="none" stroke="#FF7F00" stroke-opacity="0.6" stroke-width="1.05" stroke-linejoin="round"/>
<polyline points="370.5,68.4 371.8,66.0 372.5,61.5 373.3,66.5 374.2,68.2 375.6,68.0 376.5,62.5 377.3,66.5 378.3,62.0 379.3,64.5 380.2,68.4" fill="none" stroke="#008b00" stroke-opacity="0.6" stroke-width="1.05" stroke-linejoin="round"/>
<polyline points="310.1,68.4 311.2,67.8 312.3,67.8 313.4,68.3 314.5,68.1 315.6,68.1 316.7,67.9 317.8,67.8 318.9,68.4 320.0,68.5 321.1,67.8 322.2,68.1 323.3,67.8 324.4,68.5 325.5,68.1 326.6,67.9 327.7,68.3 328.8,67.7 329.9,67.7 331.0,68.5 332.1,68.5 333.2,68.0 334.3,67.7 335.4,68.2 336.5,68.3 337.6,68.2 338.7,68.5 339.8,68.3 340.9,68.1 342.0,68.1 343.1,68.3 344.2,68.3 345.3,68.3 346.4,68.1 347.5,68.3 348.6,68.5 349.7,67.8 350.8,68.0 351.9,68.0 353.0,68.4 354.1,67.6 355.2,67.8 356.3,68.4 357.4,68.2 358.5,67.9 359.6,67.9 360.7,67.7 361.8,68.2 362.9,67.8 364.0,67.9 365.1,68.3 366.2,68.0 367.3,67.7 368.4,67.8 369.5,68.1 370.6,68.0 371.7,68.5 372.8,68.3 373.9,67.8 375.0,68.2 376.1,68.4 377.2,68.0 378.3,67.9 379.4,67.9 380.5,68.2 381.6,68.1 382.7,68.1 383.8,67.8 384.9,68.1 386.0,68.2 387.1,68.1 388.2,68.5 389.3,68.5 390.4,67.9 391.5,67.6 392.6,68.0 393.7,68.2 394.8,68.4 395.9,68.1 397.0,67.6 398.1,67.8 399.2,68.0 400.3,67.8 401.4,68.3 402.5,68.1 403.6,67.7 404.7,68.0 405.8,68.1 406.9,68.3 408.0,68.0 409.1,67.7 410.2,68.5 411.3,67.8 412.4,67.8 413.5,67.7 414.6,67.9 415.7,67.8 416.8,68.1 417.9,68.0 419.0,68.1 420.1,68.5 421.2,67.7 422.3,68.0 423.4,68.4 424.5,68.1 425.6,68.1 426.7,68.2 427.8,68.2 428.9,68.0 430.0,68.0 431.1,68.0 432.2,68.1 433.3,68.5 434.4,68.3 435.5,68.4 436.6,68.0 437.7,67.8 438.8,67.8 439.9,67.8 441.0,67.8 442.1,68.3 443.2,67.8 444.3,67.9 445.4,68.5 446.5,68.5" fill="none" stroke="#0000ff" stroke-opacity="0.6" stroke-width="1.05" stroke-linejoin="round"/>
<polyline points="310.1,68.0 311.4,68.0 312.7,68.5 314.0,68.5 315.3,68.0 316.6,68.1 317.9,68.1 319.2,68.3 320.5,68.2 321.8,68.2 323.1,68.2 324.4,68.4 325.7,68.3 327.0,68.3 328.3,68.1 329.6,67.9 330.9,68.0 332.2,68.2 333.5,68.3 334.8,68.4 336.1,68.5 337.4,68.5 338.7,68.3 340.0,68.3 341.3,68.3 342.6,68.0 343.9,68.2 345.2,68.2 346.5,68.4 347.8,68.5 349.1,68.3 350.4,68.4 351.7,68.2 353.0,67.9 354.3,68.1 355.6,68.4 356.9,68.0 358.2,68.1 359.5,68.1 360.8,68.0 362.1,68.1 363.4,68.1 364.7,68.3 366.0,67.9 367.3,68.0 368.6,68.4 369.9,68.1 371.2,68.1 372.5,68.3 373.8,68.2 375.1,68.2 376.4,68.0 377.7,68.2 379.0,68.0 380.3,68.3 381.6,68.0 382.9,68.0 384.2,68.3 385.5,68.2 386.8,68.0 388.1,68.1 389.4,68.2 390.7,68.4 392.0,68.3 393.3,68.1 394.6,68.4 395.9,68.0 397.2,68.4 398.5,68.0 399.8,68.3 401.1,68.0 402.4,68.1 403.7,68.2 405.0,68.2 406.3,68.1 407.6,68.2 408.9,68.3 410.2,68.4 411.5,68.2 412.8,68.0 414.1,68.2 415.4,68.5 416.7,68.0 418.0,68.1 419.3,68.0 420.6,68.4 421.9,68.1 423.2,68.5 424.5,68.1 425.8,68.4 427.1,68.4 428.4,68.0 429.7,68.5 431.0,68.2 432.3,68.0 433.6,68.4 434.9,68.4 436.2,68.0 437.5,68.3 438.8,68.1 440.1,68.5 441.4,68.3 442.7,68.4 444.0,68.1 445.3,68.5 446.6,68.0" fill="none" stroke="#0000ff" stroke-opacity="0.6" stroke-width="1.05" stroke-linejoin="round"/>
<polyline points="388.5,68.3 390.2,66.5 391.4,50.0 392.4,22.8 393.3,50.0 393.9,64.0 394.5,68.3" fill="none" stroke="#0000ff" stroke-opacity="0.6" stroke-width="1.05" stroke-linejoin="round"/>
<polyline points="390.0,68.3 391.5,60.0 392.3,49.1 393.0,60.0 393.3,63.1 393.8,66.5 394.4,68.3" fill="none" stroke="#0000ff" stroke-opacity="0.6" stroke-width="1.05" stroke-linejoin="round"/>
<polyline points="393.8,68.3 395.0,62.0 396.4,52.9 397.6,60.0 399.0,68.3" fill="none" stroke="#0000ff" stroke-opacity="0.6" stroke-width="1.05" stroke-linejoin="round"/>
<polyline points="310.1,123.2 446.7,123.2" fill="none" stroke="#1c86ee" stroke-opacity="0.6" stroke-width="1.05" stroke-linejoin="round"/>
<polyline points="310.1,123.1 311.5,123.0 312.9,123.0 314.3,122.9 315.7,122.9 317.1,123.2 318.5,123.2 319.9,122.8 321.3,123.1 322.7,123.1 324.1,122.7 325.5,123.0 326.9,122.8 328.3,123.0 329.7,122.9 331.1,123.2 332.5,122.9 333.9,122.8 335.3,123.0 336.7,122.9 338.1,122.9 339.5,123.2 340.9,122.9 342.3,122.9 343.7,123.1 345.1,123.2 346.5,122.8 347.9,123.0 349.3,122.9 350.7,122.8 352.1,122.9 353.5,122.8 354.9,123.0 356.3,122.8 357.7,123.0 359.1,122.8 360.5,122.8 361.9,123.2 363.3,123.2 364.7,123.1 366.1,122.7 367.5,123.0 368.9,122.9 370.3,123.1 371.7,123.0 373.1,123.0 374.5,123.1 375.9,122.9 377.3,122.9 378.7,122.8 380.1,122.9 381.5,122.8 382.9,122.8 384.3,122.7 385.7,122.9 387.1,123.1 388.5,122.8 389.9,122.7 391.3,122.8 392.7,122.9 394.1,122.9 395.5,123.1 396.9,122.8 398.3,122.9 399.7,123.1 401.1,123.2 402.5,122.8 403.9,122.7 405.3,123.2 406.7,122.8 408.1,123.0 409.5,123.2 410.9,123.1 412.3,122.8 413.7,122.8 415.1,123.2 416.5,122.9 417.9,123.2 419.3,122.9 420.7,123.1 422.1,122.8 423.5,122.7 424.9,123.0 426.3,122.7 427.7,123.1 429.1,123.2 430.5,122.9 431.9,123.2 433.3,123.1 434.7,123.0 436.1,122.9 437.5,123.2 438.9,123.2 440.3,122.8 441.7,123.1 443.1,122.8 444.5,122.8 445.9,123.0" fill="none" stroke="#0000ff" stroke-opacity="0.6" stroke-width="1.05" stroke-linejoin="round"/>
<polyline points="310.1,121.5 311.1,121.2 312.1,121.9 313.1,121.2 314.1,121.0 315.1,121.8 316.1,123.1 317.1,122.8 318.1,122.7 319.1,121.2 320.1,122.0 321.1,121.3 322.1,121.0 323.1,120.8 324.1,121.1 325.1,122.9 326.1,122.6 327.1,122.5 328.1,122.5 329.1,120.9 330.1,121.1 331.1,121.9 332.1,122.2 333.1,122.5 334.1,122.5 335.1,120.4 336.1,121.7 337.1,121.9 338.1,121.4 339.1,120.5 340.1,121.3 341.1,120.2 342.1,122.4 343.1,122.2 344.1,121.3 345.1,120.7 346.1,122.2 347.1,121.3 348.1,122.1 349.1,122.0 350.1,121.0 351.1,120.8 352.1,121.2 353.1,120.7 354.1,119.9 355.1,120.3 356.1,121.5 357.1,119.5 358.1,119.4 359.1,120.9 360.1,120.0 361.1,120.6 362.1,120.4 363.1,120.0 364.1,121.6 365.1,119.5 367.5,119.5 368.5,118.0 369.6,114.0 370.8,117.5 372.0,113.0 373.2,95.0 374.7,77.8 375.7,98.0 376.4,110.5 377.2,106.5 378.0,103.0 379.1,96.0 380.1,90.7 381.1,97.0 382.3,105.0 383.5,110.0 385.0,115.5 386.6,118.5 388.3,119.8 390.0,121.0 391.0,121.5 392.0,121.7 393.0,121.9 394.0,122.2 395.0,121.9 396.0,122.2 397.0,120.9 398.0,121.6 399.0,122.4 400.0,122.0 401.0,122.5 402.0,121.3 403.0,121.9 404.0,121.6 405.0,122.1 406.0,122.2 407.0,121.4 408.0,121.8 409.0,121.9 410.0,123.0 411.0,122.8 412.0,121.9 413.0,123.0 414.4,118.0 415.2,114.0 416.1,118.0 417.0,122.6 418.0,123.1 419.5,123.1 421.0,122.9 422.5,122.8 424.0,122.6 425.5,123.0 427.0,122.9 428.5,123.1 430.0,122.8 431.5,123.1 433.0,122.8 434.5,123.1 436.0,123.0 437.5,122.8 439.0,122.9 440.5,123.0 442.0,122.7 443.5,122.9 445.0,123.1 446.5,122.8" fill="none" stroke="#0000ff" stroke-opacity="0.6" stroke-width="1.05" stroke-linejoin="round"/>
<polyline points="386.5,123.2 387.6,118.0 388.3,100.0 388.8,87.9 389.6,95.0 390.4,87.9 391.2,103.0 392.0,119.0 393.0,123.2" fill="none" stroke="#0000ff" stroke-opacity="0.6" stroke-width="1.05" stroke-linejoin="round"/>
<polyline points="340.0,122.3 341.2,121.9 342.4,122.6 343.6,121.6 344.8,122.3 346.0,121.9 347.2,121.3 348.4,121.9 349.6,121.1 350.8,121.6 352.0,121.0 353.2,120.9 354.4,121.3 355.6,121.9 356.8,120.7 358.0,120.7 359.2,121.3 360.4,121.7 361.6,121.1 362.8,120.8 364.0,121.6 365.2,120.1 366.4,121.4 367.6,120.4 368.8,120.2 370.0,120.1 371.2,120.4 372.4,121.1 373.6,120.1 374.8,120.7 376.0,120.7 377.2,120.3 378.4,120.5 379.6,119.7 380.8,119.8 382.0,120.2 383.2,121.1 384.4,120.8 385.6,120.8 386.8,121.3 388.0,121.3 389.2,121.2 390.4,122.1 391.6,122.1 392.8,121.5 394.0,122.2 395.2,122.2 396.4,122.9 397.6,122.8" fill="none" stroke="#0000ff" stroke-opacity="0.6" stroke-width="1.05" stroke-linejoin="round"/>
<polyline points="371.5,121.5 373.0,117.5 374.2,121.5" fill="none" stroke="#0000ff" stroke-opacity="0.6" stroke-width="1.05" stroke-linejoin="round"/>
<polyline points="394.4,123.2 395.2,116.4 396.2,116.6 397.0,123.2" fill="none" stroke="#00ced1" stroke-opacity="0.6" stroke-width="1.05" stroke-linejoin="round"/>
<polyline points="310.1,177.9 446.7,177.9" fill="none" stroke="#ff0000" stroke-opacity="0.6" stroke-width="1.05" stroke-linejoin="round"/>
<polyline points="310.1,177.8 311.6,177.4 313.1,177.9 314.6,177.6 316.1,177.9 317.6,177.8 319.1,177.4 320.6,177.8 322.1,177.6 323.6,177.7 325.1,177.7 326.6,177.7 328.1,177.8 329.6,177.5 331.1,177.9 332.6,177.8 334.1,177.9 335.6,177.8 337.1,177.7 338.6,177.5 340.1,177.7 341.6,177.9 343.1,177.8 344.6,177.4 346.1,177.9 347.6,177.6 349.1,177.7 350.6,177.6 352.1,177.8 353.6,177.6 355.1,177.7 356.6,177.6 358.1,177.5 359.6,177.6 361.1,177.9 362.6,177.9 364.1,177.5 365.6,177.7 367.1,177.8 368.6,177.5 370.1,177.6 371.6,177.6 373.1,177.5 374.6,177.8 376.1,177.8 377.6,177.5 379.1,177.9 380.6,177.5 382.1,177.9 383.6,177.6 385.1,177.6 386.6,177.5 388.1,177.5 389.6,177.7 391.1,177.8 392.6,177.9 394.1,177.7 395.6,177.7 397.1,177.9 398.6,177.5 400.1,177.7 401.6,177.6 403.1,177.8 404.6,177.8 406.1,177.9 407.6,177.8 409.1,177.8 410.6,177.7 412.1,177.7 413.6,177.5 415.1,177.5 416.6,177.8 418.1,177.7 419.6,177.8 421.1,177.6 422.6,177.4 424.1,177.8 425.6,177.5 427.1,177.8 428.6,177.9 430.1,177.5 431.6,177.8 433.1,177.8 434.6,177.7 436.1,177.8 437.6,177.7 439.1,177.7 440.6,177.7 442.1,177.6 443.6,177.8 445.1,177.9 446.6,177.9" fill="none" stroke="#ff0000" stroke-opacity="0.6" stroke-width="1.05" stroke-linejoin="round"/>
<polyline points="310.1,178.5 385.6,178.5 386.4,174.9 387.2,177.9 401.0,177.9 401.7,165.0 402.3,132.2 402.9,165.0 403.6,177.9 446.7,178.5" fill="none" stroke="#ff0000" stroke-opacity="0.6" stroke-width="1.05" stroke-linejoin="round"/>
<line x1="310.13" y1="68.53" x2="446.67" y2="68.53" stroke="#4646ff" stroke-width="1.4"/>
<line x1="310.13" y1="123.23" x2="446.67" y2="123.23" stroke="#2a62f6" stroke-width="1.5"/>
<line x1="310.13" y1="177.93" x2="446.67" y2="177.93" stroke="#ff1414" stroke-width="1.6"/>
<line x1="303.30" y1="20.90" x2="303.30" y2="70.80" stroke="#222" stroke-width="1.25"/>
<line x1="300.80" y1="68.53" x2="303.30" y2="68.53" stroke="#000" stroke-width="1.0"/>
<text transform="translate(299.10 71.70) scale(1 1.05)" font-size="7.8" text-anchor="end" fill="#4d4d4d">0</text>
<line x1="300.80" y1="56.78" x2="303.30" y2="56.78" stroke="#000" stroke-width="1.0"/>
<text transform="translate(299.10 59.95) scale(1 1.05)" font-size="7.8" text-anchor="end" fill="#4d4d4d">50</text>
<line x1="300.80" y1="45.03" x2="303.30" y2="45.03" stroke="#000" stroke-width="1.0"/>
<text transform="translate(299.10 48.20) scale(1 1.05)" font-size="7.8" text-anchor="end" fill="#4d4d4d">100</text>
<line x1="300.80" y1="33.28" x2="303.30" y2="33.28" stroke="#000" stroke-width="1.0"/>
<text transform="translate(299.10 36.44) scale(1 1.05)" font-size="7.8" text-anchor="end" fill="#4d4d4d">150</text>
<line x1="300.80" y1="21.52" x2="303.30" y2="21.52" stroke="#000" stroke-width="1.0"/>
<text transform="translate(299.10 24.69) scale(1 1.05)" font-size="7.8" text-anchor="end" fill="#4d4d4d">200</text>
<line x1="310.13" y1="67.50" x2="310.13" y2="70.80" stroke="#000" stroke-width="1.0"/>
<line x1="319.48" y1="67.50" x2="319.48" y2="70.80" stroke="#000" stroke-width="1.0"/>
<line x1="326.74" y1="65.20" x2="326.74" y2="70.80" stroke="#000" stroke-width="1.0"/>
<line x1="332.66" y1="67.50" x2="332.66" y2="70.80" stroke="#000" stroke-width="1.0"/>
<line x1="337.68" y1="67.50" x2="337.68" y2="70.80" stroke="#000" stroke-width="1.0"/>
<line x1="342.02" y1="67.50" x2="342.02" y2="70.80" stroke="#000" stroke-width="1.0"/>
<line x1="345.85" y1="67.50" x2="345.85" y2="70.80" stroke="#000" stroke-width="1.0"/>
<line x1="349.27" y1="62.90" x2="349.27" y2="70.80" stroke="#000" stroke-width="1.0"/>
<line x1="371.81" y1="67.50" x2="371.81" y2="70.80" stroke="#000" stroke-width="1.0"/>
<line x1="384.99" y1="67.50" x2="384.99" y2="70.80" stroke="#000" stroke-width="1.0"/>
<line x1="394.34" y1="67.50" x2="394.34" y2="70.80" stroke="#000" stroke-width="1.0"/>
<line x1="401.60" y1="65.20" x2="401.60" y2="70.80" stroke="#000" stroke-width="1.0"/>
<line x1="407.53" y1="67.50" x2="407.53" y2="70.80" stroke="#000" stroke-width="1.0"/>
<line x1="412.54" y1="67.50" x2="412.54" y2="70.80" stroke="#000" stroke-width="1.0"/>
<line x1="416.88" y1="67.50" x2="416.88" y2="70.80" stroke="#000" stroke-width="1.0"/>
<line x1="420.71" y1="67.50" x2="420.71" y2="70.80" stroke="#000" stroke-width="1.0"/>
<line x1="424.14" y1="62.90" x2="424.14" y2="70.80" stroke="#000" stroke-width="1.0"/>
<line x1="446.67" y1="67.50" x2="446.67" y2="70.80" stroke="#000" stroke-width="1.0"/>
<text x="457.70" y="45.85" font-size="7.6" text-anchor="middle" transform="rotate(90 457.70 45.85)">MAGs</text>
<line x1="303.30" y1="75.60" x2="303.30" y2="125.50" stroke="#222" stroke-width="1.25"/>
<line x1="300.80" y1="123.23" x2="303.30" y2="123.23" stroke="#000" stroke-width="1.0"/>
<text transform="translate(299.10 126.40) scale(1 1.05)" font-size="7.8" text-anchor="end" fill="#4d4d4d">0</text>
<line x1="300.80" y1="110.23" x2="303.30" y2="110.23" stroke="#000" stroke-width="1.0"/>
<text transform="translate(299.10 113.40) scale(1 1.05)" font-size="7.8" text-anchor="end" fill="#4d4d4d">250</text>
<line x1="300.80" y1="97.22" x2="303.30" y2="97.22" stroke="#000" stroke-width="1.0"/>
<text transform="translate(299.10 100.39) scale(1 1.05)" font-size="7.8" text-anchor="end" fill="#4d4d4d">500</text>
<line x1="300.80" y1="84.21" x2="303.30" y2="84.21" stroke="#000" stroke-width="1.0"/>
<text transform="translate(299.10 87.38) scale(1 1.05)" font-size="7.8" text-anchor="end" fill="#4d4d4d">750</text>
<line x1="310.13" y1="122.20" x2="310.13" y2="125.50" stroke="#000" stroke-width="1.0"/>
<line x1="319.48" y1="122.20" x2="319.48" y2="125.50" stroke="#000" stroke-width="1.0"/>
<line x1="326.74" y1="119.90" x2="326.74" y2="125.50" stroke="#000" stroke-width="1.0"/>
<line x1="332.66" y1="122.20" x2="332.66" y2="125.50" stroke="#000" stroke-width="1.0"/>
<line x1="337.68" y1="122.20" x2="337.68" y2="125.50" stroke="#000" stroke-width="1.0"/>
<line x1="342.02" y1="122.20" x2="342.02" y2="125.50" stroke="#000" stroke-width="1.0"/>
<line x1="345.85" y1="122.20" x2="345.85" y2="125.50" stroke="#000" stroke-width="1.0"/>
<line x1="349.27" y1="117.60" x2="349.27" y2="125.50" stroke="#000" stroke-width="1.0"/>
<line x1="371.81" y1="122.20" x2="371.81" y2="125.50" stroke="#000" stroke-width="1.0"/>
<line x1="384.99" y1="122.20" x2="384.99" y2="125.50" stroke="#000" stroke-width="1.0"/>
<line x1="394.34" y1="122.20" x2="394.34" y2="125.50" stroke="#000" stroke-width="1.0"/>
<line x1="401.60" y1="119.90" x2="401.60" y2="125.50" stroke="#000" stroke-width="1.0"/>
<line x1="407.53" y1="122.20" x2="407.53" y2="125.50" stroke="#000" stroke-width="1.0"/>
<line x1="412.54" y1="122.20" x2="412.54" y2="125.50" stroke="#000" stroke-width="1.0"/>
<line x1="416.88" y1="122.20" x2="416.88" y2="125.50" stroke="#000" stroke-width="1.0"/>
<line x1="420.71" y1="122.20" x2="420.71" y2="125.50" stroke="#000" stroke-width="1.0"/>
<line x1="424.14" y1="117.60" x2="424.14" y2="125.50" stroke="#000" stroke-width="1.0"/>
<line x1="446.67" y1="122.20" x2="446.67" y2="125.50" stroke="#000" stroke-width="1.0"/>
<text x="457.70" y="100.55" font-size="7.6" text-anchor="middle" transform="rotate(90 457.70 100.55)">Unbinned bac</text>
<line x1="303.30" y1="130.30" x2="303.30" y2="180.80" stroke="#222" stroke-width="1.25"/>
<line x1="300.80" y1="177.93" x2="303.30" y2="177.93" stroke="#000" stroke-width="1.0"/>
<text transform="translate(299.10 181.10) scale(1 1.05)" font-size="7.8" text-anchor="end" fill="#4d4d4d">0</text>
<line x1="300.80" y1="165.77" x2="303.30" y2="165.77" stroke="#000" stroke-width="1.0"/>
<text transform="translate(299.10 168.94) scale(1 1.05)" font-size="7.8" text-anchor="end" fill="#4d4d4d">5000</text>
<line x1="300.80" y1="153.61" x2="303.30" y2="153.61" stroke="#000" stroke-width="1.0"/>
<text transform="translate(299.10 156.78) scale(1 1.05)" font-size="7.8" text-anchor="end" fill="#4d4d4d">10000</text>
<line x1="300.80" y1="141.46" x2="303.30" y2="141.46" stroke="#000" stroke-width="1.0"/>
<text transform="translate(299.10 144.63) scale(1 1.05)" font-size="7.8" text-anchor="end" fill="#4d4d4d">15000</text>
<line x1="310.13" y1="176.90" x2="310.13" y2="180.20" stroke="#000" stroke-width="1.0"/>
<line x1="319.48" y1="176.90" x2="319.48" y2="180.20" stroke="#000" stroke-width="1.0"/>
<line x1="326.74" y1="174.60" x2="326.74" y2="180.20" stroke="#000" stroke-width="1.0"/>
<line x1="332.66" y1="176.90" x2="332.66" y2="180.20" stroke="#000" stroke-width="1.0"/>
<line x1="337.68" y1="176.90" x2="337.68" y2="180.20" stroke="#000" stroke-width="1.0"/>
<line x1="342.02" y1="176.90" x2="342.02" y2="180.20" stroke="#000" stroke-width="1.0"/>
<line x1="345.85" y1="176.90" x2="345.85" y2="180.20" stroke="#000" stroke-width="1.0"/>
<line x1="349.27" y1="172.30" x2="349.27" y2="180.20" stroke="#000" stroke-width="1.0"/>
<line x1="371.81" y1="176.90" x2="371.81" y2="180.20" stroke="#000" stroke-width="1.0"/>
<line x1="384.99" y1="176.90" x2="384.99" y2="180.20" stroke="#000" stroke-width="1.0"/>
<line x1="394.34" y1="176.90" x2="394.34" y2="180.20" stroke="#000" stroke-width="1.0"/>
<line x1="401.60" y1="174.60" x2="401.60" y2="180.20" stroke="#000" stroke-width="1.0"/>
<line x1="407.53" y1="176.90" x2="407.53" y2="180.20" stroke="#000" stroke-width="1.0"/>
<line x1="412.54" y1="176.90" x2="412.54" y2="180.20" stroke="#000" stroke-width="1.0"/>
<line x1="416.88" y1="176.90" x2="416.88" y2="180.20" stroke="#000" stroke-width="1.0"/>
<line x1="420.71" y1="176.90" x2="420.71" y2="180.20" stroke="#000" stroke-width="1.0"/>
<line x1="424.14" y1="172.30" x2="424.14" y2="180.20" stroke="#000" stroke-width="1.0"/>
<line x1="446.67" y1="176.90" x2="446.67" y2="180.20" stroke="#000" stroke-width="1.0"/>
<text x="457.70" y="155.25" font-size="7.6" text-anchor="middle" transform="rotate(90 457.70 155.25)">Phage</text>
<line x1="302.70" y1="180.20" x2="453.50" y2="180.20" stroke="#222" stroke-width="1.25"/>
<line x1="311.84" y1="180.20" x2="311.84" y2="182.70" stroke="#000" stroke-width="1.0"/>
<text transform="translate(303.91 192.30) scale(1 1.08)" font-size="7.8" fill="#4d4d4d">10<tspan font-size="5.6" dy="-3.4">3.5</tspan></text>
<line x1="349.27" y1="180.20" x2="349.27" y2="182.70" stroke="#000" stroke-width="1.0"/>
<text transform="translate(343.68 192.30) scale(1 1.08)" font-size="7.8" fill="#4d4d4d">10<tspan font-size="5.6" dy="-3.4">4</tspan></text>
<line x1="386.70" y1="180.20" x2="386.70" y2="182.70" stroke="#000" stroke-width="1.0"/>
<text transform="translate(378.78 192.30) scale(1 1.08)" font-size="7.8" fill="#4d4d4d">10<tspan font-size="5.6" dy="-3.4">4.5</tspan></text>
<line x1="424.14" y1="180.20" x2="424.14" y2="182.70" stroke="#000" stroke-width="1.0"/>
<text transform="translate(418.54 192.30) scale(1 1.08)" font-size="7.8" fill="#4d4d4d">10<tspan font-size="5.6" dy="-3.4">5</tspan></text>
<text transform="translate(378.40 203.60) scale(1 1.05)" font-size="9.5" text-anchor="middle">Length, nt</text>
<text transform="translate(272.70 100.55) rotate(-90) scale(1 1.08)" font-size="9.5" text-anchor="middle">Read count</text>
<text transform="translate(599.80 15.30) scale(1 1.04)" font-size="8.7" text-anchor="middle">925T</text>
<polyline points="526.7,68.5 667.4,68.5" fill="none" stroke="#9a6fd8" stroke-opacity="0.6" stroke-width="1.05" stroke-linejoin="round"/>
<polyline points="526.7,57.7 528.0,60.0 529.9,65.9 531.7,66.2 532.8,63.0 534.0,57.7 535.2,67.0 536.5,68.3 590.5,68.3 592.4,66.0 593.5,64.0 594.5,62.5 595.3,64.5 595.9,60.0 596.6,63.5 597.5,61.0 598.5,65.0 599.4,62.0 600.6,67.5 601.5,68.3 624.0,68.3 625.1,65.9 626.2,68.3 667.4,68.4" fill="none" stroke="#FF7F00" stroke-opacity="0.6" stroke-width="1.05" stroke-linejoin="round"/>
<polyline points="526.7,68.0 531.5,67.8 533.4,66.8 534.5,65.0 535.8,63.0 537.2,61.5 538.7,60.0 539.9,61.8 541.3,61.2 542.8,64.2 544.5,67.2 546.5,68.0 547.9,64.0 548.6,58.0 549.2,56.0 549.9,59.0 550.6,67.8 555.0,67.6 558.0,67.3 560.2,66.0 561.2,60.0 562.2,40.0 563.2,22.7 564.1,40.0 565.0,62.0 565.8,66.5 567.9,65.6 571.0,65.0 574.0,65.5 577.0,64.8 580.0,65.4 583.0,65.2 585.4,66.0 588.0,67.8 590.0,68.0 667.4,68.3" fill="none" stroke="#0000ff" stroke-opacity="0.6" stroke-width="1.05" stroke-linejoin="round"/>
<polyline points="526.7,68.2 545.0,67.8 556.0,67.5 558.5,66.5 560.3,57.7 561.0,61.0 561.6,62.0 562.5,59.5 563.5,66.0 565.0,67.8 575.0,66.8 585.0,67.6 600.0,68.0 608.0,68.0 609.8,62.0 610.5,53.0 611.1,51.9 611.8,60.0 612.5,68.0 615.0,67.5 615.8,64.0 616.6,68.0 667.4,68.3" fill="none" stroke="#0000ff" stroke-opacity="0.6" stroke-width="1.05" stroke-linejoin="round"/>
<polyline points="589.5,68.3 590.5,66.5 591.2,64.7 592.0,66.5 593.0,68.3" fill="none" stroke="#008b00" stroke-opacity="0.6" stroke-width="1.05" stroke-linejoin="round"/>
<polyline points="526.7,123.2 667.4,123.2" fill="none" stroke="#1c86ee" stroke-opacity="0.6" stroke-width="1.05" stroke-linejoin="round"/>
<polyline points="526.7,120.9 527.8,121.1 528.9,122.1 530.0,120.8 531.1,120.9 532.2,121.1 533.3,120.0 534.4,120.9 535.5,121.2 536.6,121.6 537.7,119.6 538.8,120.2 539.9,119.6 541.0,121.6 542.1,121.2 543.2,119.4 544.3,122.0 545.4,121.9 546.5,121.0 547.6,120.9 548.7,119.6 549.8,119.2 550.9,120.6 552.0,119.2 553.1,119.6 554.2,119.7 555.3,119.1 556.4,120.3 557.5,120.2 558.6,121.3 559.7,120.4 560.8,120.7 561.9,120.3 563.0,120.7 564.1,120.1 565.2,119.6 566.3,121.6 567.4,121.6 568.5,121.2 569.6,120.8 570.7,119.7 571.8,119.5 572.9,119.6 574.0,119.0 575.1,120.9 576.2,119.9 577.3,121.1 578.4,119.8 579.5,121.4 580.6,121.1 581.7,118.7 582.8,119.3 583.9,121.3 585.0,120.0 586.1,121.4 587.2,119.8 588.3,118.9 589.4,120.4 590.5,120.9 591.6,119.4 592.7,118.9 593.8,119.6 594.9,121.3 596.0,120.8 597.1,119.0 598.2,119.3 599.3,118.9 600.4,118.8 601.5,120.9 602.6,119.2 603.7,120.4 604.8,120.1 605.9,119.4 607.0,121.0 608.1,119.4 609.2,120.9 610.3,119.4 611.4,120.3 612.5,119.8 613.6,120.0 614.7,122.1 615.8,121.6 616.9,120.3 618.0,122.0 619.1,120.1 620.2,120.7 621.3,122.1 622.4,121.6 623.5,120.2 624.6,122.8 625.7,120.7 626.8,120.9 627.9,122.5 629.0,121.3 630.1,121.3 631.2,120.8 632.3,121.0 633.4,122.4 634.5,121.6 635.6,122.7 636.7,122.1 637.8,122.5 638.9,124.0 640.0,122.8 667.4,123.2" fill="none" stroke="#0000ff" stroke-opacity="0.6" stroke-width="1.05" stroke-linejoin="round"/>
<polyline points="526.7,120.4 527.9,120.9 529.1,121.0 530.3,119.8 531.5,119.5 532.7,120.5 533.9,120.3 535.1,121.6 536.3,121.4 537.5,121.2 538.7,121.2 539.9,121.5 541.1,120.3 542.3,121.0 543.5,120.4 544.7,122.2 545.9,120.3 547.1,122.1 548.3,120.4 549.5,121.9 550.7,121.1 551.9,121.2 553.1,122.3 554.3,120.3 555.5,120.3 556.7,122.4 557.9,121.4 559.1,120.3 560.3,122.5 561.5,122.3 562.7,120.3 563.9,121.0 565.1,120.3 566.3,120.7 567.5,121.4 568.7,120.3 569.9,121.6 571.1,120.0 572.3,120.3 573.5,121.8 574.7,120.8 575.9,120.8 577.1,121.2 578.3,120.9 579.5,120.6 580.7,119.8 581.9,121.4 583.1,122.0 584.3,122.0 585.5,121.2 586.7,120.5 587.9,120.6 589.1,121.5 590.3,121.5 591.5,120.2 592.7,120.5 593.9,120.9 595.1,121.3 596.3,122.1 597.5,121.4 598.7,120.4 599.9,122.3 601.1,121.4 602.3,121.7 603.5,121.1 604.7,121.6 605.9,121.6 607.1,122.6 608.3,121.0 609.5,122.1 610.7,121.3 611.9,122.6 613.1,121.1 614.3,121.7 615.5,122.0 616.7,122.7 617.9,121.4 619.1,122.4 620.3,121.9 621.5,122.1 622.7,122.6 623.9,123.8 667.4,123.2" fill="none" stroke="#0000ff" stroke-opacity="0.6" stroke-width="1.05" stroke-linejoin="round"/>
<polyline points="526.7,121.4 528.0,122.1 529.3,122.1 530.6,122.4 531.9,121.2 533.2,121.3 534.5,121.2 535.8,121.3 537.1,122.2 538.4,121.1 539.7,121.9 541.0,121.3 542.3,121.4 543.6,121.7 544.9,122.4 546.2,122.0 547.5,120.9 548.8,121.4 550.1,121.2 551.4,122.5 552.7,122.4 554.0,122.4 555.3,122.4 556.6,122.2 557.9,122.6 559.2,122.3 561.5,118.0 562.7,113.6 563.8,118.0 565.0,121.5 566.0,120.0 567.2,121.2 568.4,121.1 569.6,121.7 570.8,120.3 572.0,120.3 573.2,121.3 574.4,121.1 575.6,120.4 576.8,121.2 578.0,120.6 579.2,121.4 580.4,120.0 581.6,120.2 582.8,121.6 584.0,120.5 585.2,120.3 587.7,116.4 588.9,108.2 589.8,110.0 590.8,100.0 592.0,85.0 593.1,77.1 594.1,95.0 595.2,110.5 596.3,108.0 597.5,104.0 598.7,101.9 599.8,106.0 601.8,114.0 604.1,118.3 606.0,120.0 607.5,121.0 608.2,110.0 608.8,81.8 609.5,100.0 610.2,121.0 612.0,121.5 615.0,121.3 618.1,118.5 619.2,121.5 622.0,122.0 625.0,122.7 634.0,122.9 635.2,116.8 636.4,122.9 667.4,123.2" fill="none" stroke="#0000ff" stroke-opacity="0.6" stroke-width="1.05" stroke-linejoin="round"/>
<polyline points="526.7,123.2 528.2,121.8 529.7,122.8 531.2,121.9 532.7,123.1 534.2,121.7 535.7,122.9 537.2,122.6 538.7,122.8 540.2,123.0 541.7,121.9 543.2,122.0 544.7,122.5 546.2,121.9 547.7,121.8 549.2,121.7 550.7,122.6 552.2,122.6 553.7,122.5 555.2,121.6 556.7,122.6 558.2,122.0 559.7,121.6 561.2,121.9 562.7,121.8 564.2,121.3 565.7,121.9 567.2,121.6 568.7,121.9 570.2,122.4 571.7,121.9 573.2,121.6 574.7,122.2 576.2,122.4 577.7,121.6 579.2,122.2 580.7,120.9 582.2,121.0 583.7,121.0 585.2,122.1 586.7,121.7 588.2,121.7 589.7,121.0 591.2,121.3 592.7,121.8 594.2,120.6 595.7,120.6 597.2,120.5 598.7,121.0 600.2,121.5 601.7,121.3 603.2,121.3 604.7,121.6 606.2,121.3 607.7,122.6 609.2,121.9 610.7,122.0 667.4,123.2" fill="none" stroke="#0000ff" stroke-opacity="0.6" stroke-width="1.05" stroke-linejoin="round"/>
<polyline points="614.2,123.2 615.3,115.2 616.3,123.2" fill="none" stroke="#00ced1" stroke-opacity="0.6" stroke-width="1.05" stroke-linejoin="round"/>
<polyline points="526.7,177.9 667.4,177.9" fill="none" stroke="#ff0000" stroke-opacity="0.6" stroke-width="1.05" stroke-linejoin="round"/>
<polyline points="526.7,177.7 528.1,177.6 529.5,177.7 530.9,177.7 532.3,177.7 533.7,177.5 535.1,177.8 536.5,177.5 537.9,177.9 539.3,177.7 540.7,177.7 542.1,177.8 543.5,177.5 544.9,177.7 546.3,177.5 547.7,177.4 549.1,177.8 550.5,177.4 551.9,177.4 553.3,177.5 554.7,177.9 556.1,177.7 557.5,177.6 558.9,177.8 560.3,177.8 561.7,177.7 563.1,177.8 564.5,177.5 565.9,177.7 567.3,177.7 568.7,177.5 570.1,177.4 571.5,177.8 572.9,177.9 574.3,177.3 575.7,177.4 577.1,177.5 578.5,177.6 579.9,177.8 581.3,177.8 582.7,177.7 584.1,177.7 585.5,177.9 586.9,177.5 588.3,177.5 589.7,177.9 591.1,177.4 592.5,177.6 593.9,177.4 595.3,177.6 596.7,177.5 598.1,177.7 599.5,177.6 600.9,177.6 602.3,177.9 603.7,177.8 605.1,177.8 606.5,177.7 607.9,177.7 609.3,177.6 610.7,177.5 612.1,177.7 613.5,177.7 614.9,177.6 616.3,177.4 617.7,177.5 619.1,177.5 620.5,177.4 621.9,177.8 623.3,177.9 624.7,177.9 626.1,177.9 627.5,177.9 628.9,177.6 630.3,177.4 631.7,177.9 633.1,177.5 634.5,177.4 635.9,177.5 637.3,177.8 638.7,177.5 640.1,177.8 641.5,177.8 642.9,177.9 644.3,177.6 645.7,177.4 647.1,177.9 648.5,177.8 649.9,177.7 651.3,177.9 652.7,177.7 654.1,177.5 655.5,177.7 656.9,177.9 658.3,177.9 659.7,177.8 661.1,177.5 662.5,177.4 663.9,177.6 665.3,177.9 666.7,177.8" fill="none" stroke="#ff0000" stroke-opacity="0.6" stroke-width="1.05" stroke-linejoin="round"/>
<polyline points="526.7,178.4 604.6,177.9 605.5,174.3 606.4,177.9 609.2,177.9 609.9,150.0 610.4,132.2 610.9,150.0 611.6,177.9 620.6,177.9 621.2,160.0 621.6,151.4 622.1,160.0 622.7,177.9 667.4,178.4" fill="none" stroke="#ff0000" stroke-opacity="0.6" stroke-width="1.05" stroke-linejoin="round"/>
<polyline points="600.0,177.3 601.2,177.8 602.4,178.0 603.6,177.0 604.8,177.7 606.0,177.6 607.2,177.6 608.4,176.7 609.6,176.5 610.8,177.1 612.0,177.7 613.2,176.9 614.4,177.3 615.6,177.0 616.8,177.9 618.0,178.0 619.2,177.1 620.4,178.1 621.6,176.6 622.8,177.8 624.0,177.9 625.2,176.7 626.4,177.6 627.6,177.4 628.8,178.0 630.0,176.8 631.2,177.4 632.4,177.9 633.6,177.5 634.8,177.0" fill="none" stroke="#ff0000" stroke-opacity="0.6" stroke-width="1.05" stroke-linejoin="round"/>
<line x1="526.73" y1="68.53" x2="667.37" y2="68.53" stroke="#7d4288" stroke-width="1.3"/>
<line x1="526.73" y1="123.23" x2="667.37" y2="123.23" stroke="#2a62f6" stroke-width="1.5"/>
<line x1="526.73" y1="177.93" x2="667.37" y2="177.93" stroke="#ff1414" stroke-width="1.6"/>
<line x1="519.70" y1="20.90" x2="519.70" y2="70.80" stroke="#222" stroke-width="1.25"/>
<line x1="517.20" y1="68.53" x2="519.70" y2="68.53" stroke="#000" stroke-width="1.0"/>
<text transform="translate(515.50 71.70) scale(1 1.05)" font-size="7.8" text-anchor="end" fill="#4d4d4d">0</text>
<line x1="517.20" y1="57.02" x2="519.70" y2="57.02" stroke="#000" stroke-width="1.0"/>
<text transform="translate(515.50 60.19) scale(1 1.05)" font-size="7.8" text-anchor="end" fill="#4d4d4d">100</text>
<line x1="517.20" y1="45.50" x2="519.70" y2="45.50" stroke="#000" stroke-width="1.0"/>
<text transform="translate(515.50 48.67) scale(1 1.05)" font-size="7.8" text-anchor="end" fill="#4d4d4d">200</text>
<line x1="517.20" y1="33.99" x2="519.70" y2="33.99" stroke="#000" stroke-width="1.0"/>
<text transform="translate(515.50 37.16) scale(1 1.05)" font-size="7.8" text-anchor="end" fill="#4d4d4d">300</text>
<line x1="517.20" y1="22.48" x2="519.70" y2="22.48" stroke="#000" stroke-width="1.0"/>
<text transform="translate(515.50 25.65) scale(1 1.05)" font-size="7.8" text-anchor="end" fill="#4d4d4d">400</text>
<line x1="526.73" y1="67.50" x2="526.73" y2="70.80" stroke="#000" stroke-width="1.0"/>
<line x1="536.37" y1="67.50" x2="536.37" y2="70.80" stroke="#000" stroke-width="1.0"/>
<line x1="543.84" y1="65.20" x2="543.84" y2="70.80" stroke="#000" stroke-width="1.0"/>
<line x1="549.94" y1="67.50" x2="549.94" y2="70.80" stroke="#000" stroke-width="1.0"/>
<line x1="555.11" y1="67.50" x2="555.11" y2="70.80" stroke="#000" stroke-width="1.0"/>
<line x1="559.58" y1="67.50" x2="559.58" y2="70.80" stroke="#000" stroke-width="1.0"/>
<line x1="563.52" y1="67.50" x2="563.52" y2="70.80" stroke="#000" stroke-width="1.0"/>
<line x1="567.05" y1="62.90" x2="567.05" y2="70.80" stroke="#000" stroke-width="1.0"/>
<line x1="590.26" y1="67.50" x2="590.26" y2="70.80" stroke="#000" stroke-width="1.0"/>
<line x1="603.84" y1="67.50" x2="603.84" y2="70.80" stroke="#000" stroke-width="1.0"/>
<line x1="613.47" y1="67.50" x2="613.47" y2="70.80" stroke="#000" stroke-width="1.0"/>
<line x1="620.95" y1="65.20" x2="620.95" y2="70.80" stroke="#000" stroke-width="1.0"/>
<line x1="627.05" y1="67.50" x2="627.05" y2="70.80" stroke="#000" stroke-width="1.0"/>
<line x1="632.21" y1="67.50" x2="632.21" y2="70.80" stroke="#000" stroke-width="1.0"/>
<line x1="636.68" y1="67.50" x2="636.68" y2="70.80" stroke="#000" stroke-width="1.0"/>
<line x1="640.63" y1="67.50" x2="640.63" y2="70.80" stroke="#000" stroke-width="1.0"/>
<line x1="644.16" y1="62.90" x2="644.16" y2="70.80" stroke="#000" stroke-width="1.0"/>
<line x1="667.37" y1="67.50" x2="667.37" y2="70.80" stroke="#000" stroke-width="1.0"/>
<text x="678.60" y="45.85" font-size="7.6" text-anchor="middle" transform="rotate(90 678.60 45.85)">MAGs</text>
<line x1="519.70" y1="75.60" x2="519.70" y2="125.50" stroke="#222" stroke-width="1.25"/>
<line x1="517.20" y1="123.23" x2="519.70" y2="123.23" stroke="#000" stroke-width="1.0"/>
<text transform="translate(515.50 126.40) scale(1 1.05)" font-size="7.8" text-anchor="end" fill="#4d4d4d">0</text>
<line x1="517.20" y1="111.60" x2="519.70" y2="111.60" stroke="#000" stroke-width="1.0"/>
<text transform="translate(515.50 114.77) scale(1 1.05)" font-size="7.8" text-anchor="end" fill="#4d4d4d">200</text>
<line x1="517.20" y1="99.97" x2="519.70" y2="99.97" stroke="#000" stroke-width="1.0"/>
<text transform="translate(515.50 103.14) scale(1 1.05)" font-size="7.8" text-anchor="end" fill="#4d4d4d">400</text>
<line x1="517.20" y1="88.34" x2="519.70" y2="88.34" stroke="#000" stroke-width="1.0"/>
<text transform="translate(515.50 91.51) scale(1 1.05)" font-size="7.8" text-anchor="end" fill="#4d4d4d">600</text>
<line x1="517.20" y1="76.71" x2="519.70" y2="76.71" stroke="#000" stroke-width="1.0"/>
<text transform="translate(515.50 79.87) scale(1 1.05)" font-size="7.8" text-anchor="end" fill="#4d4d4d">800</text>
<line x1="526.73" y1="122.20" x2="526.73" y2="125.50" stroke="#000" stroke-width="1.0"/>
<line x1="536.37" y1="122.20" x2="536.37" y2="125.50" stroke="#000" stroke-width="1.0"/>
<line x1="543.84" y1="119.90" x2="543.84" y2="125.50" stroke="#000" stroke-width="1.0"/>
<line x1="549.94" y1="122.20" x2="549.94" y2="125.50" stroke="#000" stroke-width="1.0"/>
<line x1="555.11" y1="122.20" x2="555.11" y2="125.50" stroke="#000" stroke-width="1.0"/>
<line x1="559.58" y1="122.20" x2="559.58" y2="125.50" stroke="#000" stroke-width="1.0"/>
<line x1="563.52" y1="122.20" x2="563.52" y2="125.50" stroke="#000" stroke-width="1.0"/>
<line x1="567.05" y1="117.60" x2="567.05" y2="125.50" stroke="#000" stroke-width="1.0"/>
<line x1="590.26" y1="122.20" x2="590.26" y2="125.50" stroke="#000" stroke-width="1.0"/>
<line x1="603.84" y1="122.20" x2="603.84" y2="125.50" stroke="#000" stroke-width="1.0"/>
<line x1="613.47" y1="122.20" x2="613.47" y2="125.50" stroke="#000" stroke-width="1.0"/>
<line x1="620.95" y1="119.90" x2="620.95" y2="125.50" stroke="#000" stroke-width="1.0"/>
<line x1="627.05" y1="122.20" x2="627.05" y2="125.50" stroke="#000" stroke-width="1.0"/>
<line x1="632.21" y1="122.20" x2="632.21" y2="125.50" stroke="#000" stroke-width="1.0"/>
<line x1="636.68" y1="122.20" x2="636.68" y2="125.50" stroke="#000" stroke-width="1.0"/>
<line x1="640.63" y1="122.20" x2="640.63" y2="125.50" stroke="#000" stroke-width="1.0"/>
<line x1="644.16" y1="117.60" x2="644.16" y2="125.50" stroke="#000" stroke-width="1.0"/>
<line x1="667.37" y1="122.20" x2="667.37" y2="125.50" stroke="#000" stroke-width="1.0"/>
<text x="678.60" y="100.55" font-size="7.6" text-anchor="middle" transform="rotate(90 678.60 100.55)">Unbinned bac</text>
<line x1="519.70" y1="130.30" x2="519.70" y2="180.80" stroke="#222" stroke-width="1.25"/>
<line x1="517.20" y1="177.93" x2="519.70" y2="177.93" stroke="#000" stroke-width="1.0"/>
<text transform="translate(515.50 181.10) scale(1 1.05)" font-size="7.8" text-anchor="end" fill="#4d4d4d">0</text>
<line x1="517.20" y1="165.51" x2="519.70" y2="165.51" stroke="#000" stroke-width="1.0"/>
<text transform="translate(515.50 168.68) scale(1 1.05)" font-size="7.8" text-anchor="end" fill="#4d4d4d">2500</text>
<line x1="517.20" y1="153.08" x2="519.70" y2="153.08" stroke="#000" stroke-width="1.0"/>
<text transform="translate(515.50 156.25) scale(1 1.05)" font-size="7.8" text-anchor="end" fill="#4d4d4d">5000</text>
<line x1="517.20" y1="140.65" x2="519.70" y2="140.65" stroke="#000" stroke-width="1.0"/>
<text transform="translate(515.50 143.82) scale(1 1.05)" font-size="7.8" text-anchor="end" fill="#4d4d4d">7500</text>
<line x1="526.73" y1="176.90" x2="526.73" y2="180.20" stroke="#000" stroke-width="1.0"/>
<line x1="536.37" y1="176.90" x2="536.37" y2="180.20" stroke="#000" stroke-width="1.0"/>
<line x1="543.84" y1="174.60" x2="543.84" y2="180.20" stroke="#000" stroke-width="1.0"/>
<line x1="549.94" y1="176.90" x2="549.94" y2="180.20" stroke="#000" stroke-width="1.0"/>
<line x1="555.11" y1="176.90" x2="555.11" y2="180.20" stroke="#000" stroke-width="1.0"/>
<line x1="559.58" y1="176.90" x2="559.58" y2="180.20" stroke="#000" stroke-width="1.0"/>
<line x1="563.52" y1="176.90" x2="563.52" y2="180.20" stroke="#000" stroke-width="1.0"/>
<line x1="567.05" y1="172.30" x2="567.05" y2="180.20" stroke="#000" stroke-width="1.0"/>
<line x1="590.26" y1="176.90" x2="590.26" y2="180.20" stroke="#000" stroke-width="1.0"/>
<line x1="603.84" y1="176.90" x2="603.84" y2="180.20" stroke="#000" stroke-width="1.0"/>
<line x1="613.47" y1="176.90" x2="613.47" y2="180.20" stroke="#000" stroke-width="1.0"/>
<line x1="620.95" y1="174.60" x2="620.95" y2="180.20" stroke="#000" stroke-width="1.0"/>
<line x1="627.05" y1="176.90" x2="627.05" y2="180.20" stroke="#000" stroke-width="1.0"/>
<line x1="632.21" y1="176.90" x2="632.21" y2="180.20" stroke="#000" stroke-width="1.0"/>
<line x1="636.68" y1="176.90" x2="636.68" y2="180.20" stroke="#000" stroke-width="1.0"/>
<line x1="640.63" y1="176.90" x2="640.63" y2="180.20" stroke="#000" stroke-width="1.0"/>
<line x1="644.16" y1="172.30" x2="644.16" y2="180.20" stroke="#000" stroke-width="1.0"/>
<line x1="667.37" y1="176.90" x2="667.37" y2="180.20" stroke="#000" stroke-width="1.0"/>
<text x="678.60" y="155.25" font-size="7.6" text-anchor="middle" transform="rotate(90 678.60 155.25)">Phage</text>
<line x1="519.10" y1="180.20" x2="674.40" y2="180.20" stroke="#222" stroke-width="1.25"/>
<line x1="528.50" y1="180.20" x2="528.50" y2="182.70" stroke="#000" stroke-width="1.0"/>
<text transform="translate(520.57 192.30) scale(1 1.08)" font-size="7.8" fill="#4d4d4d">10<tspan font-size="5.6" dy="-3.4">3.5</tspan></text>
<line x1="567.05" y1="180.20" x2="567.05" y2="182.70" stroke="#000" stroke-width="1.0"/>
<text transform="translate(561.46 192.30) scale(1 1.08)" font-size="7.8" fill="#4d4d4d">10<tspan font-size="5.6" dy="-3.4">4</tspan></text>
<line x1="605.60" y1="180.20" x2="605.60" y2="182.70" stroke="#000" stroke-width="1.0"/>
<text transform="translate(597.67 192.30) scale(1 1.08)" font-size="7.8" fill="#4d4d4d">10<tspan font-size="5.6" dy="-3.4">4.5</tspan></text>
<line x1="644.16" y1="180.20" x2="644.16" y2="182.70" stroke="#000" stroke-width="1.0"/>
<text transform="translate(638.56 192.30) scale(1 1.08)" font-size="7.8" fill="#4d4d4d">10<tspan font-size="5.6" dy="-3.4">5</tspan></text>
<text transform="translate(597.10 203.60) scale(1 1.05)" font-size="9.5" text-anchor="middle">Length, nt</text>
<text transform="translate(493.30 100.55) rotate(-90) scale(1 1.08)" font-size="9.5" text-anchor="middle">Read count</text>
<text transform="translate(378.95 225.60) scale(1 1.04)" font-size="8.7" text-anchor="middle">928B</text>
<polyline points="306.1,278.8 446.5,278.8" fill="none" stroke="#9a6fd8" stroke-opacity="0.6" stroke-width="1.05" stroke-linejoin="round"/>
<polyline points="306.1,277.6 307.2,278.5 308.3,278.2 309.4,277.7 310.5,277.0 311.6,278.0 312.7,277.8 313.8,277.1 314.9,277.0 316.0,276.5 317.1,276.0 318.2,276.7 319.3,277.2 320.4,276.1 321.5,277.6 322.6,276.5 323.7,276.7 324.8,276.4 325.9,278.5 327.0,278.1 328.1,278.5 329.2,278.1 330.3,277.1 331.4,277.7 332.5,278.1 333.6,277.3 334.7,279.0 335.8,277.9 336.9,277.5 338.0,278.8 339.2,277.5 340.3,255.0 341.0,236.0 341.5,233.1 342.2,236.0 343.2,260.0 344.4,277.8 345.5,278.9 346.7,277.6 347.9,277.4 349.1,279.0 350.3,277.7 351.5,277.6 352.7,278.4 353.9,278.0 355.1,278.8 356.3,277.8 357.5,278.9 358.7,277.9 359.9,278.4 361.1,278.9 362.3,278.5 363.5,278.9 364.7,278.5 365.9,277.5 367.1,278.8 368.3,278.3 369.5,277.9 370.7,277.7 371.9,278.8 373.1,278.3 374.3,278.9 375.5,278.6 376.7,278.9 377.9,278.3 379.1,278.5 380.3,278.4 381.5,277.8 382.7,278.9 383.9,277.9 385.1,278.6 386.3,278.9 387.5,278.4 388.7,277.6 390.2,270.0 390.8,255.0 391.3,250.9 391.9,258.0 392.5,272.0 393.2,267.7 393.9,272.0 394.6,278.3 446.5,278.8" fill="none" stroke="#0000ff" stroke-opacity="0.6" stroke-width="1.05" stroke-linejoin="round"/>
<polyline points="385.5,278.8 387.1,275.5 388.5,278.8" fill="none" stroke="#FF7F00" stroke-opacity="0.6" stroke-width="1.05" stroke-linejoin="round"/>
<polyline points="397.0,278.8 398.1,276.4 399.2,278.8" fill="none" stroke="#ff1493" stroke-opacity="0.6" stroke-width="1.05" stroke-linejoin="round"/>
<polyline points="306.1,333.5 446.5,333.5" fill="none" stroke="#0000ff" stroke-opacity="0.6" stroke-width="1.05" stroke-linejoin="round"/>
<polyline points="306.1,332.6 307.2,332.6 308.3,332.4 309.4,330.3 310.5,331.5 311.6,331.0 312.7,331.2 313.8,330.1 314.9,330.2 316.0,330.7 317.1,330.1 318.2,330.6 319.3,329.5 320.4,329.5 321.5,330.9 322.6,330.2 323.7,330.3 324.8,330.7 325.9,329.8 327.0,328.9 328.1,330.6 329.2,330.1 330.3,330.1 331.4,329.9 332.5,330.5 333.6,328.9 334.7,329.6 335.8,328.4 336.9,328.7 338.0,328.7 339.1,327.7 340.2,326.9 341.3,327.6 342.4,328.0 343.5,326.8 344.6,325.4 345.7,324.7 347.9,320.8 349.4,325.9 350.4,318.0 351.5,311.1 352.4,308.0 353.3,306.5 354.0,309.0 354.5,310.6 355.3,316.0 356.1,311.6 357.1,323.3 357.8,310.0 358.4,301.9 359.0,304.0 359.6,306.5 360.7,316.7 361.7,320.3 362.5,305.0 363.2,293.2 363.7,305.0 364.2,321.8 364.9,305.0 365.6,292.2 366.2,305.0 366.8,320.8 367.8,313.6 368.8,305.5 369.9,315.7 370.9,325.9 371.9,322.8 373.4,316.7 375.0,324.9 376.5,326.9 377.8,325.5 379.0,326.9 381.1,325.9 382.6,329.0 384.2,327.0 385.7,324.9 387.2,329.5 388.8,323.9 390.3,327.9 391.8,330.0 394.1,330.0 395.0,330.3 396.2,330.7 397.4,329.7 398.6,331.1 399.8,330.0 401.0,330.8 402.2,330.0 403.4,331.2 404.6,330.3 405.8,331.3 407.0,331.5 408.2,331.7 409.4,331.3 410.6,332.1 411.8,332.4 413.0,331.1 414.2,331.9 415.4,332.8 416.6,332.5 417.8,332.2 419.0,332.1 420.2,333.3 421.4,332.1 422.6,333.3 423.8,333.6 425.0,332.7 446.5,333.5" fill="none" stroke="#0000ff" stroke-opacity="0.6" stroke-width="1.05" stroke-linejoin="round"/>
<polyline points="306.1,332.9 307.5,333.5 308.9,333.3 310.3,332.5 311.7,333.2 313.1,332.9 314.5,332.1 315.9,333.1 317.3,332.2 318.7,332.2 320.1,332.3 321.5,332.5 322.9,331.8 324.3,332.5 325.7,332.6 327.1,332.1 328.5,332.4 329.9,332.2 334.0,330.5 337.0,329.0 340.4,327.4 343.5,329.5 346.0,331.5 347.0,332.3 348.3,331.6 349.6,331.6 350.9,332.1 352.2,331.4 353.5,332.4 354.8,332.4 356.1,331.4 357.4,332.3 358.7,332.0 360.0,332.2 361.3,332.6 362.6,332.7 363.9,331.9 365.2,332.5 366.5,332.4 367.8,332.7 369.1,331.3 370.4,332.6 371.7,331.6 374.0,330.5 375.4,329.0 377.0,331.5 380.0,332.5 394.4,332.5 394.9,300.0 395.3,288.1 395.8,300.0 396.4,332.0 404.3,332.0 405.3,321.5 406.3,332.3 446.5,333.5" fill="none" stroke="#FF7F00" stroke-opacity="0.6" stroke-width="1.05" stroke-linejoin="round"/>
<polyline points="306.1,333.2 370.5,333.2 371.9,328.5 373.3,333.2 446.5,333.5" fill="none" stroke="#0000ff" stroke-opacity="0.6" stroke-width="1.05" stroke-linejoin="round"/>
<polyline points="306.1,388.2 446.5,388.2" fill="none" stroke="#ff0000" stroke-opacity="0.6" stroke-width="1.05" stroke-linejoin="round"/>
<polyline points="306.1,387.9 307.6,387.9 309.1,387.8 310.6,388.1 312.1,388.2 313.6,387.8 315.1,388.1 316.6,388.0 318.1,387.8 319.6,388.1 321.1,387.8 322.6,388.0 324.1,388.2 325.6,387.8 327.1,387.9 328.6,388.2 330.1,387.8 331.6,387.8 333.1,387.9 334.6,387.9 336.1,387.7 337.6,388.2 339.1,387.7 340.6,387.9 342.1,388.1 343.6,387.9 345.1,388.1 346.6,387.9 348.1,387.9 349.6,388.0 351.1,388.2 352.6,388.0 354.1,388.1 355.6,387.9 357.1,387.8 358.6,387.8 360.1,388.0 361.6,388.1 363.1,387.9 364.6,388.1 366.1,387.7 367.6,388.1 369.1,387.7 370.6,388.2 372.1,387.8 373.6,388.1 375.1,387.9 376.6,388.0 378.1,388.1 379.6,388.0 381.1,387.8 382.6,388.1 384.1,388.0 385.6,387.8 387.1,388.1 388.6,388.1 390.1,388.0 391.6,388.0 393.1,388.1 394.6,387.8 396.1,388.0 397.6,388.2 399.1,388.1 400.6,388.2 402.1,388.1 403.6,388.2 405.1,388.1 406.6,388.0 408.1,387.9 409.6,388.1 411.1,388.0 412.6,388.0 414.1,387.9 415.6,387.8 417.1,388.1 418.6,387.8 420.1,388.0 421.6,387.8 423.1,387.9 424.6,388.2 426.1,388.2 427.6,387.8 429.1,388.1 430.6,387.9 432.1,388.2 433.6,387.9 435.1,388.0 436.6,388.0 438.1,388.2 439.6,387.8 441.1,387.8 442.6,387.9 444.1,387.9 445.6,388.1" fill="none" stroke="#ff0000" stroke-opacity="0.6" stroke-width="1.05" stroke-linejoin="round"/>
<polyline points="306.1,388.7 383.8,388.2 384.5,360.0 385.0,343.1 385.5,360.0 386.3,388.2 392.2,388.2 393.0,384.7 393.8,388.2 395.8,388.2 396.9,380.7 397.6,384.0 398.3,384.5 399.0,388.2 446.5,388.7" fill="none" stroke="#ff0000" stroke-opacity="0.6" stroke-width="1.05" stroke-linejoin="round"/>
<line x1="306.12" y1="278.83" x2="446.48" y2="278.83" stroke="#a07ce0" stroke-width="1.5"/>
<line x1="306.12" y1="333.53" x2="446.48" y2="333.53" stroke="#3050f0" stroke-width="1.5"/>
<line x1="306.12" y1="388.23" x2="446.48" y2="388.23" stroke="#ff1414" stroke-width="1.6"/>
<line x1="299.10" y1="231.20" x2="299.10" y2="281.10" stroke="#222" stroke-width="1.25"/>
<line x1="296.60" y1="278.83" x2="299.10" y2="278.83" stroke="#000" stroke-width="1.0"/>
<text transform="translate(294.90 282.00) scale(1 1.05)" font-size="7.8" text-anchor="end" fill="#4d4d4d">0</text>
<line x1="296.60" y1="265.93" x2="299.10" y2="265.93" stroke="#000" stroke-width="1.0"/>
<text transform="translate(294.90 269.10) scale(1 1.05)" font-size="7.8" text-anchor="end" fill="#4d4d4d">25</text>
<line x1="296.60" y1="253.03" x2="299.10" y2="253.03" stroke="#000" stroke-width="1.0"/>
<text transform="translate(294.90 256.20) scale(1 1.05)" font-size="7.8" text-anchor="end" fill="#4d4d4d">50</text>
<line x1="296.60" y1="240.13" x2="299.10" y2="240.13" stroke="#000" stroke-width="1.0"/>
<text transform="translate(294.90 243.29) scale(1 1.05)" font-size="7.8" text-anchor="end" fill="#4d4d4d">75</text>
<line x1="306.12" y1="277.80" x2="306.12" y2="281.10" stroke="#000" stroke-width="1.0"/>
<line x1="315.73" y1="277.80" x2="315.73" y2="281.10" stroke="#000" stroke-width="1.0"/>
<line x1="323.19" y1="275.50" x2="323.19" y2="281.10" stroke="#000" stroke-width="1.0"/>
<line x1="329.28" y1="277.80" x2="329.28" y2="281.10" stroke="#000" stroke-width="1.0"/>
<line x1="334.44" y1="277.80" x2="334.44" y2="281.10" stroke="#000" stroke-width="1.0"/>
<line x1="338.90" y1="277.80" x2="338.90" y2="281.10" stroke="#000" stroke-width="1.0"/>
<line x1="342.84" y1="277.80" x2="342.84" y2="281.10" stroke="#000" stroke-width="1.0"/>
<line x1="346.36" y1="273.20" x2="346.36" y2="281.10" stroke="#000" stroke-width="1.0"/>
<line x1="369.52" y1="277.80" x2="369.52" y2="281.10" stroke="#000" stroke-width="1.0"/>
<line x1="383.08" y1="277.80" x2="383.08" y2="281.10" stroke="#000" stroke-width="1.0"/>
<line x1="392.69" y1="277.80" x2="392.69" y2="281.10" stroke="#000" stroke-width="1.0"/>
<line x1="400.15" y1="275.50" x2="400.15" y2="281.10" stroke="#000" stroke-width="1.0"/>
<line x1="406.24" y1="277.80" x2="406.24" y2="281.10" stroke="#000" stroke-width="1.0"/>
<line x1="411.39" y1="277.80" x2="411.39" y2="281.10" stroke="#000" stroke-width="1.0"/>
<line x1="415.86" y1="277.80" x2="415.86" y2="281.10" stroke="#000" stroke-width="1.0"/>
<line x1="419.79" y1="277.80" x2="419.79" y2="281.10" stroke="#000" stroke-width="1.0"/>
<line x1="423.32" y1="273.20" x2="423.32" y2="281.10" stroke="#000" stroke-width="1.0"/>
<line x1="446.48" y1="277.80" x2="446.48" y2="281.10" stroke="#000" stroke-width="1.0"/>
<text x="457.70" y="256.15" font-size="7.6" text-anchor="middle" transform="rotate(90 457.70 256.15)">MAGs</text>
<line x1="299.10" y1="285.90" x2="299.10" y2="335.80" stroke="#222" stroke-width="1.25"/>
<line x1="296.60" y1="333.53" x2="299.10" y2="333.53" stroke="#000" stroke-width="1.0"/>
<text transform="translate(294.90 336.70) scale(1 1.05)" font-size="7.8" text-anchor="end" fill="#4d4d4d">0</text>
<line x1="296.60" y1="322.39" x2="299.10" y2="322.39" stroke="#000" stroke-width="1.0"/>
<text transform="translate(294.90 325.55) scale(1 1.05)" font-size="7.8" text-anchor="end" fill="#4d4d4d">200</text>
<line x1="296.60" y1="311.24" x2="299.10" y2="311.24" stroke="#000" stroke-width="1.0"/>
<text transform="translate(294.90 314.41) scale(1 1.05)" font-size="7.8" text-anchor="end" fill="#4d4d4d">400</text>
<line x1="296.60" y1="300.09" x2="299.10" y2="300.09" stroke="#000" stroke-width="1.0"/>
<text transform="translate(294.90 303.26) scale(1 1.05)" font-size="7.8" text-anchor="end" fill="#4d4d4d">600</text>
<line x1="296.60" y1="288.95" x2="299.10" y2="288.95" stroke="#000" stroke-width="1.0"/>
<text transform="translate(294.90 292.12) scale(1 1.05)" font-size="7.8" text-anchor="end" fill="#4d4d4d">800</text>
<line x1="306.12" y1="332.50" x2="306.12" y2="335.80" stroke="#000" stroke-width="1.0"/>
<line x1="315.73" y1="332.50" x2="315.73" y2="335.80" stroke="#000" stroke-width="1.0"/>
<line x1="323.19" y1="330.20" x2="323.19" y2="335.80" stroke="#000" stroke-width="1.0"/>
<line x1="329.28" y1="332.50" x2="329.28" y2="335.80" stroke="#000" stroke-width="1.0"/>
<line x1="334.44" y1="332.50" x2="334.44" y2="335.80" stroke="#000" stroke-width="1.0"/>
<line x1="338.90" y1="332.50" x2="338.90" y2="335.80" stroke="#000" stroke-width="1.0"/>
<line x1="342.84" y1="332.50" x2="342.84" y2="335.80" stroke="#000" stroke-width="1.0"/>
<line x1="346.36" y1="327.90" x2="346.36" y2="335.80" stroke="#000" stroke-width="1.0"/>
<line x1="369.52" y1="332.50" x2="369.52" y2="335.80" stroke="#000" stroke-width="1.0"/>
<line x1="383.08" y1="332.50" x2="383.08" y2="335.80" stroke="#000" stroke-width="1.0"/>
<line x1="392.69" y1="332.50" x2="392.69" y2="335.80" stroke="#000" stroke-width="1.0"/>
<line x1="400.15" y1="330.20" x2="400.15" y2="335.80" stroke="#000" stroke-width="1.0"/>
<line x1="406.24" y1="332.50" x2="406.24" y2="335.80" stroke="#000" stroke-width="1.0"/>
<line x1="411.39" y1="332.50" x2="411.39" y2="335.80" stroke="#000" stroke-width="1.0"/>
<line x1="415.86" y1="332.50" x2="415.86" y2="335.80" stroke="#000" stroke-width="1.0"/>
<line x1="419.79" y1="332.50" x2="419.79" y2="335.80" stroke="#000" stroke-width="1.0"/>
<line x1="423.32" y1="327.90" x2="423.32" y2="335.80" stroke="#000" stroke-width="1.0"/>
<line x1="446.48" y1="332.50" x2="446.48" y2="335.80" stroke="#000" stroke-width="1.0"/>
<text x="457.70" y="310.85" font-size="7.6" text-anchor="middle" transform="rotate(90 457.70 310.85)">Unbinned bac</text>
<line x1="299.10" y1="340.60" x2="299.10" y2="391.10" stroke="#222" stroke-width="1.25"/>
<line x1="296.60" y1="388.23" x2="299.10" y2="388.23" stroke="#000" stroke-width="1.0"/>
<text transform="translate(294.90 391.40) scale(1 1.05)" font-size="7.8" text-anchor="end" fill="#4d4d4d">0</text>
<line x1="296.60" y1="372.24" x2="299.10" y2="372.24" stroke="#000" stroke-width="1.0"/>
<text transform="translate(294.90 375.41) scale(1 1.05)" font-size="7.8" text-anchor="end" fill="#4d4d4d">2000</text>
<line x1="296.60" y1="356.26" x2="299.10" y2="356.26" stroke="#000" stroke-width="1.0"/>
<text transform="translate(294.90 359.43) scale(1 1.05)" font-size="7.8" text-anchor="end" fill="#4d4d4d">4000</text>
<line x1="306.12" y1="387.20" x2="306.12" y2="390.50" stroke="#000" stroke-width="1.0"/>
<line x1="315.73" y1="387.20" x2="315.73" y2="390.50" stroke="#000" stroke-width="1.0"/>
<line x1="323.19" y1="384.90" x2="323.19" y2="390.50" stroke="#000" stroke-width="1.0"/>
<line x1="329.28" y1="387.20" x2="329.28" y2="390.50" stroke="#000" stroke-width="1.0"/>
<line x1="334.44" y1="387.20" x2="334.44" y2="390.50" stroke="#000" stroke-width="1.0"/>
<line x1="338.90" y1="387.20" x2="338.90" y2="390.50" stroke="#000" stroke-width="1.0"/>
<line x1="342.84" y1="387.20" x2="342.84" y2="390.50" stroke="#000" stroke-width="1.0"/>
<line x1="346.36" y1="382.60" x2="346.36" y2="390.50" stroke="#000" stroke-width="1.0"/>
<line x1="369.52" y1="387.20" x2="369.52" y2="390.50" stroke="#000" stroke-width="1.0"/>
<line x1="383.08" y1="387.20" x2="383.08" y2="390.50" stroke="#000" stroke-width="1.0"/>
<line x1="392.69" y1="387.20" x2="392.69" y2="390.50" stroke="#000" stroke-width="1.0"/>
<line x1="400.15" y1="384.90" x2="400.15" y2="390.50" stroke="#000" stroke-width="1.0"/>
<line x1="406.24" y1="387.20" x2="406.24" y2="390.50" stroke="#000" stroke-width="1.0"/>
<line x1="411.39" y1="387.20" x2="411.39" y2="390.50" stroke="#000" stroke-width="1.0"/>
<line x1="415.86" y1="387.20" x2="415.86" y2="390.50" stroke="#000" stroke-width="1.0"/>
<line x1="419.79" y1="387.20" x2="419.79" y2="390.50" stroke="#000" stroke-width="1.0"/>
<line x1="423.32" y1="382.60" x2="423.32" y2="390.50" stroke="#000" stroke-width="1.0"/>
<line x1="446.48" y1="387.20" x2="446.48" y2="390.50" stroke="#000" stroke-width="1.0"/>
<text x="457.70" y="365.55" font-size="7.6" text-anchor="middle" transform="rotate(90 457.70 365.55)">Phage</text>
<line x1="298.50" y1="390.50" x2="453.50" y2="390.50" stroke="#222" stroke-width="1.25"/>
<line x1="307.88" y1="390.50" x2="307.88" y2="393.00" stroke="#000" stroke-width="1.0"/>
<text transform="translate(299.95 402.60) scale(1 1.08)" font-size="7.8" fill="#4d4d4d">10<tspan font-size="5.6" dy="-3.4">3.5</tspan></text>
<line x1="346.36" y1="390.50" x2="346.36" y2="393.00" stroke="#000" stroke-width="1.0"/>
<text transform="translate(340.76 402.60) scale(1 1.08)" font-size="7.8" fill="#4d4d4d">10<tspan font-size="5.6" dy="-3.4">4</tspan></text>
<line x1="384.84" y1="390.50" x2="384.84" y2="393.00" stroke="#000" stroke-width="1.0"/>
<text transform="translate(376.91 402.60) scale(1 1.08)" font-size="7.8" fill="#4d4d4d">10<tspan font-size="5.6" dy="-3.4">4.5</tspan></text>
<line x1="423.32" y1="390.50" x2="423.32" y2="393.00" stroke="#000" stroke-width="1.0"/>
<text transform="translate(417.72 402.60) scale(1 1.08)" font-size="7.8" fill="#4d4d4d">10<tspan font-size="5.6" dy="-3.4">5</tspan></text>
<text transform="translate(376.30 413.90) scale(1 1.05)" font-size="9.5" text-anchor="middle">Length, nt</text>
<text transform="translate(272.70 310.85) rotate(-90) scale(1 1.08)" font-size="9.5" text-anchor="middle">Read count</text>
<text transform="translate(599.80 225.60) scale(1 1.04)" font-size="8.7" text-anchor="middle">928T</text>
<polyline points="526.7,278.8 667.4,278.8" fill="none" stroke="#9a6fd8" stroke-opacity="0.6" stroke-width="1.05" stroke-linejoin="round"/>
<polyline points="526.7,277.0 527.8,277.1 528.9,277.6 530.0,278.0 531.1,277.1 532.2,277.0 533.3,277.2 534.4,278.0 535.5,277.0 536.6,277.9 537.7,277.7 538.8,276.9 539.9,277.5 541.0,277.3 542.1,277.2 543.2,278.1 544.3,276.6 545.4,276.5 546.5,277.9 547.6,277.0 548.7,276.6 549.8,276.8 550.9,276.8 552.0,277.8 553.1,276.5 554.2,276.4 555.3,276.9 556.4,276.7 557.5,277.3 559.6,275.5 560.8,258.0 561.7,238.0 562.4,233.1 563.1,240.0 563.9,262.0 564.7,278.0 667.4,278.8" fill="none" stroke="#0000ff" stroke-opacity="0.6" stroke-width="1.05" stroke-linejoin="round"/>
<polyline points="526.7,333.5 667.4,333.5" fill="none" stroke="#0000ff" stroke-opacity="0.6" stroke-width="1.05" stroke-linejoin="round"/>
<polyline points="526.7,333.5 667.4,333.5" fill="none" stroke="#1c86ee" stroke-opacity="0.6" stroke-width="1.05" stroke-linejoin="round"/>
<polyline points="526.7,331.3 527.9,331.5 529.1,331.7 530.3,332.6 531.5,332.0 532.7,332.4 533.9,331.4 535.1,332.0 536.3,332.5 537.5,332.0 539.0,328.0 540.3,318.0 541.4,313.8 542.5,318.0 543.5,328.0 544.5,332.3 545.0,331.9 546.2,332.0 547.4,332.3 548.6,331.4 549.8,332.0 551.0,332.4 552.2,332.5 553.4,331.3 554.6,332.0 555.8,332.0 557.0,331.8 558.2,332.5 559.4,331.8 561.3,328.0 562.4,324.6 563.5,329.0 565.5,328.5 567.0,326.0 568.9,324.6 570.5,327.0 572.5,323.0 574.1,320.8 575.5,324.5 577.6,327.4 580.0,328.5 583.4,329.7 588.1,331.4 592.7,331.8 667.4,333.5" fill="none" stroke="#0000ff" stroke-opacity="0.6" stroke-width="1.05" stroke-linejoin="round"/>
<polyline points="526.7,332.8 528.0,332.9 529.3,333.1 530.6,333.2 531.9,333.2 533.2,332.7 534.5,333.2 535.8,332.7 538.5,331.0 541.4,327.4 543.5,332.0 548.0,332.8 667.4,333.5" fill="none" stroke="#0000ff" stroke-opacity="0.6" stroke-width="1.05" stroke-linejoin="round"/>
<polyline points="526.7,331.5 528.0,331.7 529.3,331.7 530.6,331.8 531.9,330.9 533.2,331.9 534.5,331.3 535.8,331.5 537.1,331.4 538.4,331.6 539.7,330.7 541.0,330.8 542.3,331.2 543.6,331.0 544.9,331.2 546.2,330.6 547.5,331.4 548.8,330.1 550.1,331.0 551.4,330.5 552.7,330.0 554.0,330.8 555.3,329.9 556.6,330.1 557.9,330.2 559.2,329.9 564.7,329.7 570.0,329.0 578.7,327.8 582.0,326.5 585.7,325.0 588.0,323.5 590.4,320.4 592.3,314.0 593.9,306.4 595.2,299.0 596.3,295.8 597.2,290.0 597.9,287.7 598.6,295.0 599.8,311.0 601.0,318.0 602.1,323.9 604.0,326.5 605.6,328.5 607.9,331.4 614.5,332.0 616.1,329.7 617.5,332.3 625.2,332.3 626.2,326.9 627.2,332.8 667.4,333.5" fill="none" stroke="#FF7F00" stroke-opacity="0.6" stroke-width="1.05" stroke-linejoin="round"/>
<polyline points="526.7,388.2 667.4,388.2" fill="none" stroke="#ff0000" stroke-opacity="0.6" stroke-width="1.05" stroke-linejoin="round"/>
<polyline points="526.7,388.1 528.2,387.7 529.7,387.8 531.2,387.8 532.7,387.8 534.2,387.8 535.7,388.2 537.2,387.9 538.7,388.1 540.2,387.9 541.7,388.0 543.2,387.9 544.7,388.0 546.2,387.9 547.7,387.8 549.2,387.7 550.7,388.1 552.2,387.8 553.7,387.8 555.2,388.0 556.7,388.2 558.2,388.0 559.7,387.8 561.2,388.0 562.7,388.1 564.2,387.9 565.7,388.1 567.2,387.8 568.7,388.1 570.2,387.9 571.7,388.0 573.2,387.7 574.7,388.2 576.2,387.8 577.7,388.0 579.2,388.0 580.7,388.1 582.2,388.0 583.7,387.8 585.2,387.7 586.7,387.8 588.2,387.9 589.7,388.1 591.2,388.0 592.7,387.9 594.2,388.1 595.7,387.7 597.2,388.2 598.7,388.1 600.2,388.1 601.7,388.1 603.2,388.2 604.7,388.1 606.2,388.0 607.7,387.8 609.2,388.0 610.7,387.9 612.2,388.1 613.7,388.1 615.2,387.9 616.7,387.9 618.2,388.2 619.7,387.9 621.2,388.1 622.7,387.9 624.2,388.1 625.7,388.2 627.2,388.2 628.7,387.8 630.2,388.0 631.7,388.2 633.2,387.8 634.7,388.1 636.2,388.1 637.7,388.2 639.2,388.1 640.7,388.0 642.2,387.8 643.7,388.1 645.2,388.0 646.7,388.2 648.2,387.9 649.7,388.1 651.2,388.0 652.7,388.1 654.2,387.8 655.7,387.7 657.2,388.2 658.7,388.0 660.2,388.2 661.7,387.9 663.2,387.8 664.7,388.2 666.2,387.9" fill="none" stroke="#ff0000" stroke-opacity="0.6" stroke-width="1.05" stroke-linejoin="round"/>
<polyline points="526.7,386.8 527.6,385.2 528.5,386.5 529.4,387.1 530.3,387.0 531.2,386.2 532.1,386.4 533.0,385.7 533.9,386.1 534.8,385.0 535.7,386.4 536.6,386.2 537.5,385.3 538.4,385.5 539.3,386.4 540.2,385.6 541.1,386.9 542.0,386.9 542.9,386.5 543.8,384.6 544.7,384.5 545.6,385.0 546.5,385.2 547.4,386.0 548.3,386.3 549.2,385.6 550.1,385.7 551.0,385.5 551.9,384.1 552.8,385.4 553.7,384.5 554.6,385.0 555.5,383.9 556.4,385.5 557.3,386.2 558.2,383.9 559.1,385.2 560.0,383.8 560.9,384.6 561.8,384.0 562.7,385.8 563.6,385.4 564.5,385.8 565.4,383.9 566.3,385.2 567.2,385.1 568.1,384.5 569.0,385.5 569.9,384.7 570.8,383.8 571.7,384.9 572.6,384.2 573.5,383.4 574.4,384.4 575.3,382.9 576.2,383.9 577.1,384.1 578.0,382.6 578.9,384.2 579.8,382.7 580.7,384.1 581.6,383.3 582.5,382.4 583.4,384.9 584.3,382.4 585.2,382.6 586.1,383.4 587.0,382.7 587.9,383.4 588.8,383.2 589.7,383.4 590.6,383.3 591.5,382.6 592.4,382.3 593.3,383.5 594.2,382.8 595.1,382.9 596.0,383.9 596.9,381.5 597.8,382.1 598.7,382.8 599.6,381.5 600.5,383.3 601.4,382.3 602.3,382.1 603.2,381.8 604.1,383.8 605.0,381.4 605.9,383.4 606.8,383.1 607.7,383.6 608.6,383.1 609.5,382.2 610.4,382.7 611.3,383.7 612.2,381.4 613.1,383.6 614.0,383.2 614.9,382.0 615.8,384.1 616.7,382.4 617.6,381.7 618.5,382.4 619.4,383.1 620.3,381.9 621.2,383.4 622.1,383.1 623.0,382.9 623.9,384.2 624.8,384.2 625.7,385.4 626.6,385.4 627.5,385.7 628.4,386.2 629.3,386.3 630.2,385.6 631.1,384.9 632.0,386.3 632.9,387.1 633.8,388.4 634.7,388.0 667.4,388.2" fill="none" stroke="#ff0000" stroke-opacity="0.6" stroke-width="1.05" stroke-linejoin="round"/>
<polyline points="526.7,387.3 527.6,386.8 528.5,387.4 529.4,386.0 530.3,387.3 531.2,386.6 532.1,387.1 533.0,386.1 533.9,386.5 534.8,386.3 535.7,386.4 536.6,387.2 537.5,386.6 538.4,387.7 539.3,386.8 540.2,386.0 541.1,386.9 542.0,386.6 542.9,385.8 543.8,386.6 544.7,385.4 545.6,386.2 546.5,386.5 547.4,386.8 548.3,387.4 549.2,386.6 550.1,385.3 551.0,386.3 551.9,385.8 552.8,386.8 553.7,387.1 554.6,385.3 555.5,386.8 556.4,385.7 557.3,385.5 558.2,386.0 559.1,385.9 560.0,385.6 560.9,385.5 561.8,385.9 562.7,386.4 563.6,385.3 564.5,385.7 565.4,385.4 566.3,386.4 567.2,385.3 568.1,386.4 569.0,384.8 569.9,386.6 570.8,385.6 571.7,386.7 572.6,386.4 573.5,386.5 574.4,384.7 575.3,386.2 576.2,385.7 577.1,386.5 578.0,385.7 578.9,385.2 579.8,386.4 580.7,386.6 581.6,384.9 582.5,384.7 583.4,385.3 584.3,385.8 585.2,384.7 586.1,385.6 587.0,385.4 587.9,386.0 588.8,384.5 589.7,384.5 590.6,385.3 591.5,385.8 592.4,385.4 593.3,385.7 594.2,384.7 595.1,384.1 596.0,385.6 596.9,385.4 597.8,384.1 598.7,384.2 599.6,385.5 600.5,385.4 601.4,384.4 602.3,384.5 603.2,384.8 604.1,383.9 605.0,384.5 605.9,384.3 606.8,383.9 607.7,384.9 608.6,385.8 609.5,383.9 610.4,385.2 611.3,385.0 612.2,384.3 613.1,385.1 614.0,385.3 614.9,384.2 615.8,384.5 616.7,385.0 617.6,384.5 618.5,383.9 619.4,384.4 620.3,385.1 621.2,385.1 622.1,384.8 623.0,384.9 623.9,384.9 624.8,386.2 625.7,386.7 626.6,385.8 627.5,386.9 628.4,385.9 629.3,386.4 630.2,387.5 631.1,387.3 632.0,387.6 667.4,388.2" fill="none" stroke="#ff0000" stroke-opacity="0.6" stroke-width="1.05" stroke-linejoin="round"/>
<polyline points="526.7,388.2 530.0,388.2 530.8,383.5 531.6,388.2 605.4,388.2 605.9,360.0 606.3,342.7 606.7,360.0 607.3,388.2 617.4,388.2 618.0,370.0 618.4,358.6 618.9,370.0 619.6,388.2 643.8,388.2 644.3,382.0 644.6,375.4 645.0,382.0 645.6,388.2 667.4,388.2" fill="none" stroke="#ff0000" stroke-opacity="0.6" stroke-width="1.05" stroke-linejoin="round"/>
<line x1="526.73" y1="278.83" x2="667.37" y2="278.83" stroke="#9a74dc" stroke-width="1.5"/>
<line x1="526.73" y1="333.53" x2="667.37" y2="333.53" stroke="#2a62f6" stroke-width="1.5"/>
<line x1="526.73" y1="388.23" x2="667.37" y2="388.23" stroke="#ff1414" stroke-width="1.6"/>
<line x1="519.70" y1="231.20" x2="519.70" y2="281.10" stroke="#222" stroke-width="1.25"/>
<line x1="517.20" y1="278.83" x2="519.70" y2="278.83" stroke="#000" stroke-width="1.0"/>
<text transform="translate(515.50 282.00) scale(1 1.05)" font-size="7.8" text-anchor="end" fill="#4d4d4d">0</text>
<line x1="517.20" y1="266.70" x2="519.70" y2="266.70" stroke="#000" stroke-width="1.0"/>
<text transform="translate(515.50 269.87) scale(1 1.05)" font-size="7.8" text-anchor="end" fill="#4d4d4d">200</text>
<line x1="517.20" y1="254.57" x2="519.70" y2="254.57" stroke="#000" stroke-width="1.0"/>
<text transform="translate(515.50 257.74) scale(1 1.05)" font-size="7.8" text-anchor="end" fill="#4d4d4d">400</text>
<line x1="517.20" y1="242.44" x2="519.70" y2="242.44" stroke="#000" stroke-width="1.0"/>
<text transform="translate(515.50 245.61) scale(1 1.05)" font-size="7.8" text-anchor="end" fill="#4d4d4d">600</text>
<line x1="526.73" y1="277.80" x2="526.73" y2="281.10" stroke="#000" stroke-width="1.0"/>
<line x1="536.37" y1="277.80" x2="536.37" y2="281.10" stroke="#000" stroke-width="1.0"/>
<line x1="543.84" y1="275.50" x2="543.84" y2="281.10" stroke="#000" stroke-width="1.0"/>
<line x1="549.94" y1="277.80" x2="549.94" y2="281.10" stroke="#000" stroke-width="1.0"/>
<line x1="555.11" y1="277.80" x2="555.11" y2="281.10" stroke="#000" stroke-width="1.0"/>
<line x1="559.58" y1="277.80" x2="559.58" y2="281.10" stroke="#000" stroke-width="1.0"/>
<line x1="563.52" y1="277.80" x2="563.52" y2="281.10" stroke="#000" stroke-width="1.0"/>
<line x1="567.05" y1="273.20" x2="567.05" y2="281.10" stroke="#000" stroke-width="1.0"/>
<line x1="590.26" y1="277.80" x2="590.26" y2="281.10" stroke="#000" stroke-width="1.0"/>
<line x1="603.84" y1="277.80" x2="603.84" y2="281.10" stroke="#000" stroke-width="1.0"/>
<line x1="613.47" y1="277.80" x2="613.47" y2="281.10" stroke="#000" stroke-width="1.0"/>
<line x1="620.95" y1="275.50" x2="620.95" y2="281.10" stroke="#000" stroke-width="1.0"/>
<line x1="627.05" y1="277.80" x2="627.05" y2="281.10" stroke="#000" stroke-width="1.0"/>
<line x1="632.21" y1="277.80" x2="632.21" y2="281.10" stroke="#000" stroke-width="1.0"/>
<line x1="636.68" y1="277.80" x2="636.68" y2="281.10" stroke="#000" stroke-width="1.0"/>
<line x1="640.63" y1="277.80" x2="640.63" y2="281.10" stroke="#000" stroke-width="1.0"/>
<line x1="644.16" y1="273.20" x2="644.16" y2="281.10" stroke="#000" stroke-width="1.0"/>
<line x1="667.37" y1="277.80" x2="667.37" y2="281.10" stroke="#000" stroke-width="1.0"/>
<text x="678.60" y="256.15" font-size="7.6" text-anchor="middle" transform="rotate(90 678.60 256.15)">MAGs</text>
<line x1="519.70" y1="285.90" x2="519.70" y2="335.80" stroke="#222" stroke-width="1.25"/>
<line x1="517.20" y1="333.53" x2="519.70" y2="333.53" stroke="#000" stroke-width="1.0"/>
<text transform="translate(515.50 336.70) scale(1 1.05)" font-size="7.8" text-anchor="end" fill="#4d4d4d">0</text>
<line x1="517.20" y1="317.10" x2="519.70" y2="317.10" stroke="#000" stroke-width="1.0"/>
<text transform="translate(515.50 320.26) scale(1 1.05)" font-size="7.8" text-anchor="end" fill="#4d4d4d">500</text>
<line x1="517.20" y1="300.66" x2="519.70" y2="300.66" stroke="#000" stroke-width="1.0"/>
<text transform="translate(515.50 303.83) scale(1 1.05)" font-size="7.8" text-anchor="end" fill="#4d4d4d">1000</text>
<line x1="526.73" y1="332.50" x2="526.73" y2="335.80" stroke="#000" stroke-width="1.0"/>
<line x1="536.37" y1="332.50" x2="536.37" y2="335.80" stroke="#000" stroke-width="1.0"/>
<line x1="543.84" y1="330.20" x2="543.84" y2="335.80" stroke="#000" stroke-width="1.0"/>
<line x1="549.94" y1="332.50" x2="549.94" y2="335.80" stroke="#000" stroke-width="1.0"/>
<line x1="555.11" y1="332.50" x2="555.11" y2="335.80" stroke="#000" stroke-width="1.0"/>
<line x1="559.58" y1="332.50" x2="559.58" y2="335.80" stroke="#000" stroke-width="1.0"/>
<line x1="563.52" y1="332.50" x2="563.52" y2="335.80" stroke="#000" stroke-width="1.0"/>
<line x1="567.05" y1="327.90" x2="567.05" y2="335.80" stroke="#000" stroke-width="1.0"/>
<line x1="590.26" y1="332.50" x2="590.26" y2="335.80" stroke="#000" stroke-width="1.0"/>
<line x1="603.84" y1="332.50" x2="603.84" y2="335.80" stroke="#000" stroke-width="1.0"/>
<line x1="613.47" y1="332.50" x2="613.47" y2="335.80" stroke="#000" stroke-width="1.0"/>
<line x1="620.95" y1="330.20" x2="620.95" y2="335.80" stroke="#000" stroke-width="1.0"/>
<line x1="627.05" y1="332.50" x2="627.05" y2="335.80" stroke="#000" stroke-width="1.0"/>
<line x1="632.21" y1="332.50" x2="632.21" y2="335.80" stroke="#000" stroke-width="1.0"/>
<line x1="636.68" y1="332.50" x2="636.68" y2="335.80" stroke="#000" stroke-width="1.0"/>
<line x1="640.63" y1="332.50" x2="640.63" y2="335.80" stroke="#000" stroke-width="1.0"/>
<line x1="644.16" y1="327.90" x2="644.16" y2="335.80" stroke="#000" stroke-width="1.0"/>
<line x1="667.37" y1="332.50" x2="667.37" y2="335.80" stroke="#000" stroke-width="1.0"/>
<text x="678.60" y="310.85" font-size="7.6" text-anchor="middle" transform="rotate(90 678.60 310.85)">Unbinned bac</text>
<line x1="519.70" y1="340.60" x2="519.70" y2="391.10" stroke="#222" stroke-width="1.25"/>
<line x1="517.20" y1="388.23" x2="519.70" y2="388.23" stroke="#000" stroke-width="1.0"/>
<text transform="translate(515.50 391.40) scale(1 1.05)" font-size="7.8" text-anchor="end" fill="#4d4d4d">0</text>
<line x1="517.20" y1="378.52" x2="519.70" y2="378.52" stroke="#000" stroke-width="1.0"/>
<text transform="translate(515.50 381.69) scale(1 1.05)" font-size="7.8" text-anchor="end" fill="#4d4d4d">100</text>
<line x1="517.20" y1="368.80" x2="519.70" y2="368.80" stroke="#000" stroke-width="1.0"/>
<text transform="translate(515.50 371.97) scale(1 1.05)" font-size="7.8" text-anchor="end" fill="#4d4d4d">200</text>
<line x1="517.20" y1="359.09" x2="519.70" y2="359.09" stroke="#000" stroke-width="1.0"/>
<text transform="translate(515.50 362.26) scale(1 1.05)" font-size="7.8" text-anchor="end" fill="#4d4d4d">300</text>
<line x1="517.20" y1="349.38" x2="519.70" y2="349.38" stroke="#000" stroke-width="1.0"/>
<text transform="translate(515.50 352.55) scale(1 1.05)" font-size="7.8" text-anchor="end" fill="#4d4d4d">400</text>
<line x1="526.73" y1="387.20" x2="526.73" y2="390.50" stroke="#000" stroke-width="1.0"/>
<line x1="536.37" y1="387.20" x2="536.37" y2="390.50" stroke="#000" stroke-width="1.0"/>
<line x1="543.84" y1="384.90" x2="543.84" y2="390.50" stroke="#000" stroke-width="1.0"/>
<line x1="549.94" y1="387.20" x2="549.94" y2="390.50" stroke="#000" stroke-width="1.0"/>
<line x1="555.11" y1="387.20" x2="555.11" y2="390.50" stroke="#000" stroke-width="1.0"/>
<line x1="559.58" y1="387.20" x2="559.58" y2="390.50" stroke="#000" stroke-width="1.0"/>
<line x1="563.52" y1="387.20" x2="563.52" y2="390.50" stroke="#000" stroke-width="1.0"/>
<line x1="567.05" y1="382.60" x2="567.05" y2="390.50" stroke="#000" stroke-width="1.0"/>
<line x1="590.26" y1="387.20" x2="590.26" y2="390.50" stroke="#000" stroke-width="1.0"/>
<line x1="603.84" y1="387.20" x2="603.84" y2="390.50" stroke="#000" stroke-width="1.0"/>
<line x1="613.47" y1="387.20" x2="613.47" y2="390.50" stroke="#000" stroke-width="1.0"/>
<line x1="620.95" y1="384.90" x2="620.95" y2="390.50" stroke="#000" stroke-width="1.0"/>
<line x1="627.05" y1="387.20" x2="627.05" y2="390.50" stroke="#000" stroke-width="1.0"/>
<line x1="632.21" y1="387.20" x2="632.21" y2="390.50" stroke="#000" stroke-width="1.0"/>
<line x1="636.68" y1="387.20" x2="636.68" y2="390.50" stroke="#000" stroke-width="1.0"/>
<line x1="640.63" y1="387.20" x2="640.63" y2="390.50" stroke="#000" stroke-width="1.0"/>
<line x1="644.16" y1="382.60" x2="644.16" y2="390.50" stroke="#000" stroke-width="1.0"/>
<line x1="667.37" y1="387.20" x2="667.37" y2="390.50" stroke="#000" stroke-width="1.0"/>
<text x="678.60" y="365.55" font-size="7.6" text-anchor="middle" transform="rotate(90 678.60 365.55)">Phage</text>
<line x1="519.10" y1="390.50" x2="674.40" y2="390.50" stroke="#222" stroke-width="1.25"/>
<line x1="528.50" y1="390.50" x2="528.50" y2="393.00" stroke="#000" stroke-width="1.0"/>
<text transform="translate(520.57 402.60) scale(1 1.08)" font-size="7.8" fill="#4d4d4d">10<tspan font-size="5.6" dy="-3.4">3.5</tspan></text>
<line x1="567.05" y1="390.50" x2="567.05" y2="393.00" stroke="#000" stroke-width="1.0"/>
<text transform="translate(561.46 402.60) scale(1 1.08)" font-size="7.8" fill="#4d4d4d">10<tspan font-size="5.6" dy="-3.4">4</tspan></text>
<line x1="605.60" y1="390.50" x2="605.60" y2="393.00" stroke="#000" stroke-width="1.0"/>
<text transform="translate(597.67 402.60) scale(1 1.08)" font-size="7.8" fill="#4d4d4d">10<tspan font-size="5.6" dy="-3.4">4.5</tspan></text>
<line x1="644.16" y1="390.50" x2="644.16" y2="393.00" stroke="#000" stroke-width="1.0"/>
<text transform="translate(638.56 402.60) scale(1 1.08)" font-size="7.8" fill="#4d4d4d">10<tspan font-size="5.6" dy="-3.4">5</tspan></text>
<text transform="translate(597.10 413.90) scale(1 1.05)" font-size="9.5" text-anchor="middle">Length, nt</text>
<text transform="translate(493.30 310.85) rotate(-90) scale(1 1.08)" font-size="9.5" text-anchor="middle">Read count</text>
<text transform="translate(376.80 436.50) scale(1 1.04)" font-size="8.7" text-anchor="middle">942B</text>
<polyline points="302.0,489.7 372.6,489.7 373.5,487.8 374.4,489.7 384.0,489.7 384.9,487.8 385.8,489.7 446.3,489.7" fill="none" stroke="#FF7F00" stroke-opacity="0.6" stroke-width="1.05" stroke-linejoin="round"/>
<polyline points="302.0,451.6 302.5,461.8 303.2,453.4 303.9,466.9 304.6,456.8 305.1,470.5 305.6,458.8 306.0,469.3 306.8,460.3 307.5,469.7 308.2,456.9 308.9,458.1 309.4,468.8 309.9,455.2 310.5,451.2 311.0,467.8 311.6,449.5 312.2,468.1 312.9,449.7 313.6,447.0 314.1,466.2 314.8,460.2 315.5,444.1 316.2,447.1 316.8,462.2 317.3,465.5 318.0,448.1 318.8,469.0 319.5,446.1 320.0,449.5 320.8,467.4 321.3,446.5 321.8,467.5 322.3,450.4 322.9,469.0 323.4,453.6 324.1,466.7 324.9,453.1 325.3,451.5 326.0,450.9 326.5,466.4 326.9,450.9 327.5,468.6 328.3,470.6 329.0,457.1 329.8,457.8 330.3,469.1 330.8,460.8 331.4,475.1 331.8,463.4 332.6,463.6 333.3,467.5 334.0,476.7 334.5,478.2 335.3,482.1 335.9,482.9 336.6,486.1 337.1,486.3 337.8,484.7 338.4,486.5 339.0,485.1 339.5,487.4 340.3,485.6 340.9,485.1 341.4,488.2 342.2,487.6 342.8,484.0 343.4,488.0 343.9,488.3 344.6,483.5 345.2,484.9 345.9,488.2 346.6,488.6 347.4,489.2 350.0,489.3 352.0,489.7" fill="none" stroke="#1c86ee" stroke-opacity="0.6" stroke-width="1.05" stroke-linejoin="round"/>
<polyline points="355.0,488.7 356.0,487.7 357.0,488.7 364.0,488.7 365.0,487.7 366.0,488.7 367.3,487.7 368.5,489.7" fill="none" stroke="#1c86ee" stroke-opacity="0.6" stroke-width="1.05" stroke-linejoin="round"/>
<polyline points="302.0,544.4 446.3,544.4" fill="none" stroke="#0000ff" stroke-opacity="0.6" stroke-width="1.05" stroke-linejoin="round"/>
<polyline points="302.0,544.0 302.9,541.5 303.8,542.5 304.7,542.3 305.6,544.4 306.5,544.1 307.4,544.4 308.3,541.8 309.2,543.1 310.1,541.5 311.0,542.3 311.9,543.5 312.8,541.5 313.7,542.2 314.6,544.0 315.5,543.6 316.4,542.3 317.3,543.8 318.2,544.4 319.1,541.5 320.0,544.4 320.9,544.2 321.8,542.8 322.7,542.1 323.6,544.4 324.5,542.8 325.4,541.8 326.3,541.8 327.2,544.4 328.1,543.8 329.0,544.4 329.9,544.3 330.8,543.6 331.7,544.4 332.6,542.9 334.9,540.0 336.0,515.0 336.8,500.0 337.5,498.4 338.3,500.0 339.2,515.0 340.7,543.0 342.0,544.4 446.3,544.4" fill="none" stroke="#0000ff" stroke-opacity="0.6" stroke-width="1.05" stroke-linejoin="round"/>
<polyline points="302.0,540.6 303.1,543.9 304.2,541.1 305.3,542.7 306.4,543.8 307.5,544.4 308.6,542.7 309.7,542.9 310.8,540.5 311.9,542.6 313.0,542.3 314.1,544.4 315.2,543.2 316.3,544.2 317.4,542.6 318.5,541.3 319.6,544.4 320.7,544.4 321.8,542.3 322.9,540.9 324.0,543.0 325.1,542.9 326.2,544.3 327.3,543.4 328.4,543.0 329.5,543.3 330.6,542.3 331.7,540.7 332.8,540.7 335.2,538.0 336.5,525.0 337.5,518.5 338.5,525.0 340.5,543.5 342.0,544.4" fill="none" stroke="#0000ff" stroke-opacity="0.6" stroke-width="1.05" stroke-linejoin="round"/>
<polyline points="318.5,544.4 320.0,537.8 321.5,544.4 328.5,544.4 329.7,537.5 331.0,541.0 332.0,535.2 333.0,540.0 335.5,536.0 337.5,524.5 339.5,536.0 341.0,544.4" fill="none" stroke="#0000ff" stroke-opacity="0.6" stroke-width="1.05" stroke-linejoin="round"/>
<polyline points="345.5,544.4 346.3,542.6 347.1,544.4 352.0,544.4 352.7,542.6 353.4,544.4 360.0,544.4 360.7,542.6 361.4,544.4 372.5,544.4 373.2,542.6 373.9,544.4 390.5,544.4 391.2,542.6 391.9,544.4" fill="none" stroke="#0000ff" stroke-opacity="0.6" stroke-width="1.05" stroke-linejoin="round"/>
<polyline points="302.0,599.1 446.3,599.1" fill="none" stroke="#ff0000" stroke-opacity="0.6" stroke-width="1.05" stroke-linejoin="round"/>
<polyline points="302.0,597.9 303.2,598.0 304.4,598.5 305.6,597.5 306.8,597.5 308.0,597.2 309.2,597.3 310.4,597.1 311.6,597.3 312.8,597.8 314.0,598.4 315.2,598.0 316.4,597.5 317.6,597.5 318.8,597.9 320.0,597.4 321.2,597.0 322.4,598.1 323.6,597.7 324.8,597.0 326.0,596.9 327.2,596.9 328.4,598.1 329.6,596.9 330.8,597.6 332.0,598.0 333.2,596.7 334.4,597.2 335.6,597.3 336.8,597.9 338.0,596.8 339.2,596.9 340.4,596.9 341.6,596.6 342.8,597.4 344.0,597.6 345.2,597.0 346.4,596.4 347.6,597.4 348.8,597.4 350.0,597.2 351.2,596.8 352.4,597.5 353.6,597.2 354.8,597.2 356.0,597.2 357.2,596.7 358.4,597.1 359.6,597.6 360.8,597.4 362.0,597.0 363.2,597.7 364.4,597.7 365.6,596.6 366.8,596.8 368.0,596.9 369.2,596.6 370.4,597.7 371.6,597.6 372.8,597.4 374.0,598.1 375.2,597.2 376.4,597.0 377.6,596.9 378.8,597.3 380.0,598.0 381.2,597.7 382.4,596.9 383.6,597.5 384.8,597.0 386.0,597.8 387.2,597.1 388.4,597.2 389.6,597.9 390.8,598.2 392.0,597.9 393.2,597.4 394.4,598.0 395.6,597.5 396.8,597.1 398.0,597.5 399.2,598.1 400.4,598.0 401.6,597.5 402.8,598.4 404.0,598.4 405.2,597.6 406.4,598.6 407.6,597.7 408.8,597.4 410.0,598.0 411.2,598.6 412.4,598.2 413.6,598.2 414.8,598.1 416.0,597.8 417.2,597.9 418.4,598.0 419.6,598.3 446.3,599.1" fill="none" stroke="#ff0000" stroke-opacity="0.6" stroke-width="1.05" stroke-linejoin="round"/>
<polyline points="382.3,599.1 383.1,593.4 383.9,599.1 393.5,599.1 394.3,592.2 395.1,599.1" fill="none" stroke="#ff0000" stroke-opacity="0.6" stroke-width="1.05" stroke-linejoin="round"/>
<polyline points="302.0,593.7 302.9,594.9 303.8,592.6 304.7,594.0 305.6,592.5 306.5,592.1 307.4,593.6 308.3,592.6 309.2,593.7 310.1,596.1 311.0,592.1 311.9,595.3 312.8,592.6 313.7,596.2 314.6,595.9 315.5,592.9 316.4,596.4 317.3,595.5 318.2,591.9 319.1,593.6 320.0,595.2 320.9,596.3 321.8,592.1 322.7,592.4 323.6,595.3 324.5,596.2 325.4,591.3 326.3,591.2 327.2,594.7 328.1,592.0 329.0,592.2 329.9,594.6 330.8,593.6 331.7,592.9 332.6,593.8 333.5,592.8 334.4,592.9 335.3,591.7 336.2,591.2 337.1,587.9 338.0,592.4 338.9,592.2 339.8,588.8 340.7,590.2 341.6,586.6 342.5,589.1 343.4,589.6 344.3,587.6 345.2,588.1 346.1,590.3 347.0,586.2 347.9,587.8 348.8,585.5 349.7,587.0 350.6,589.6 351.5,588.1 352.4,584.8 353.3,589.4 354.2,588.3 355.1,587.5 356.0,586.1 356.9,586.2 357.8,585.5 358.7,587.9 359.6,584.7 360.5,589.6 361.4,584.9 362.3,587.8 363.2,587.5 364.1,586.4 365.0,585.9 365.9,586.8 366.8,586.2 367.7,589.8 368.6,588.0 369.5,587.3 370.4,588.2 371.3,587.2 372.2,585.3 373.1,584.6 374.0,589.9 374.9,589.3 375.8,585.2 376.7,588.1 377.6,589.2 378.5,589.9 379.4,585.3 380.3,585.7 381.2,587.3 382.1,588.5 383.0,585.7 383.9,589.2 384.8,589.6 385.7,588.0 386.6,590.4 387.5,588.1 388.4,590.8 389.3,588.5 390.2,588.8 391.1,588.9 392.0,591.0 392.9,592.1 393.8,587.8 394.7,590.9 395.6,592.5 396.5,591.9 397.4,589.6 398.3,590.6 399.2,593.8 400.1,590.3 401.0,594.7 401.9,591.8 402.8,592.8 403.7,594.1 404.6,594.3 405.5,594.0 406.4,595.8 407.3,594.8 408.2,596.7 409.1,595.4 410.0,595.2 410.9,592.4 411.8,597.3 412.7,593.7 413.6,593.8 414.5,593.0 415.4,596.3 416.3,594.7 417.2,595.7 418.1,596.0 419.0,596.2 420.3,585.0 420.8,565.0 421.0,553.2 421.4,553.2 421.8,575.0 422.3,597.0 423.5,598.8 446.3,599.1" fill="none" stroke="#ff0000" stroke-opacity="0.6" stroke-width="1.05" stroke-linejoin="round"/>
<line x1="302.01" y1="489.73" x2="446.29" y2="489.73" stroke="#e0a070" stroke-width="1.3"/>
<line x1="302.01" y1="544.43" x2="446.29" y2="544.43" stroke="#3c64e6" stroke-width="1.4"/>
<line x1="302.01" y1="599.13" x2="446.29" y2="599.13" stroke="#ff1414" stroke-width="1.6"/>
<line x1="294.80" y1="442.10" x2="294.80" y2="492.00" stroke="#222" stroke-width="1.25"/>
<line x1="292.30" y1="489.73" x2="294.80" y2="489.73" stroke="#000" stroke-width="1.0"/>
<text transform="translate(290.60 492.90) scale(1 1.05)" font-size="7.8" text-anchor="end" fill="#4d4d4d">0</text>
<line x1="292.30" y1="478.86" x2="294.80" y2="478.86" stroke="#000" stroke-width="1.0"/>
<text transform="translate(290.60 482.03) scale(1 1.05)" font-size="7.8" text-anchor="end" fill="#4d4d4d">5</text>
<line x1="292.30" y1="467.99" x2="294.80" y2="467.99" stroke="#000" stroke-width="1.0"/>
<text transform="translate(290.60 471.15) scale(1 1.05)" font-size="7.8" text-anchor="end" fill="#4d4d4d">10</text>
<line x1="292.30" y1="457.11" x2="294.80" y2="457.11" stroke="#000" stroke-width="1.0"/>
<text transform="translate(290.60 460.28) scale(1 1.05)" font-size="7.8" text-anchor="end" fill="#4d4d4d">15</text>
<line x1="292.30" y1="446.24" x2="294.80" y2="446.24" stroke="#000" stroke-width="1.0"/>
<text transform="translate(290.60 449.41) scale(1 1.05)" font-size="7.8" text-anchor="end" fill="#4d4d4d">20</text>
<line x1="302.01" y1="488.70" x2="302.01" y2="492.00" stroke="#000" stroke-width="1.0"/>
<line x1="311.90" y1="488.70" x2="311.90" y2="492.00" stroke="#000" stroke-width="1.0"/>
<line x1="319.56" y1="486.40" x2="319.56" y2="492.00" stroke="#000" stroke-width="1.0"/>
<line x1="325.83" y1="488.70" x2="325.83" y2="492.00" stroke="#000" stroke-width="1.0"/>
<line x1="331.12" y1="488.70" x2="331.12" y2="492.00" stroke="#000" stroke-width="1.0"/>
<line x1="335.71" y1="488.70" x2="335.71" y2="492.00" stroke="#000" stroke-width="1.0"/>
<line x1="339.75" y1="488.70" x2="339.75" y2="492.00" stroke="#000" stroke-width="1.0"/>
<line x1="343.37" y1="484.10" x2="343.37" y2="492.00" stroke="#000" stroke-width="1.0"/>
<line x1="367.19" y1="488.70" x2="367.19" y2="492.00" stroke="#000" stroke-width="1.0"/>
<line x1="381.11" y1="488.70" x2="381.11" y2="492.00" stroke="#000" stroke-width="1.0"/>
<line x1="391.00" y1="488.70" x2="391.00" y2="492.00" stroke="#000" stroke-width="1.0"/>
<line x1="398.66" y1="486.40" x2="398.66" y2="492.00" stroke="#000" stroke-width="1.0"/>
<line x1="404.93" y1="488.70" x2="404.93" y2="492.00" stroke="#000" stroke-width="1.0"/>
<line x1="410.22" y1="488.70" x2="410.22" y2="492.00" stroke="#000" stroke-width="1.0"/>
<line x1="414.81" y1="488.70" x2="414.81" y2="492.00" stroke="#000" stroke-width="1.0"/>
<line x1="418.86" y1="488.70" x2="418.86" y2="492.00" stroke="#000" stroke-width="1.0"/>
<line x1="422.47" y1="484.10" x2="422.47" y2="492.00" stroke="#000" stroke-width="1.0"/>
<line x1="446.29" y1="488.70" x2="446.29" y2="492.00" stroke="#000" stroke-width="1.0"/>
<text x="457.70" y="467.05" font-size="7.6" text-anchor="middle" transform="rotate(90 457.70 467.05)">MAGs</text>
<line x1="294.80" y1="496.80" x2="294.80" y2="546.70" stroke="#222" stroke-width="1.25"/>
<line x1="292.30" y1="544.43" x2="294.80" y2="544.43" stroke="#000" stroke-width="1.0"/>
<text transform="translate(290.60 547.60) scale(1 1.05)" font-size="7.8" text-anchor="end" fill="#4d4d4d">0</text>
<line x1="292.30" y1="533.63" x2="294.80" y2="533.63" stroke="#000" stroke-width="1.0"/>
<text transform="translate(290.60 536.80) scale(1 1.05)" font-size="7.8" text-anchor="end" fill="#4d4d4d">5</text>
<line x1="292.30" y1="522.83" x2="294.80" y2="522.83" stroke="#000" stroke-width="1.0"/>
<text transform="translate(290.60 526.00) scale(1 1.05)" font-size="7.8" text-anchor="end" fill="#4d4d4d">10</text>
<line x1="292.30" y1="512.03" x2="294.80" y2="512.03" stroke="#000" stroke-width="1.0"/>
<text transform="translate(290.60 515.20) scale(1 1.05)" font-size="7.8" text-anchor="end" fill="#4d4d4d">15</text>
<line x1="292.30" y1="501.23" x2="294.80" y2="501.23" stroke="#000" stroke-width="1.0"/>
<text transform="translate(290.60 504.40) scale(1 1.05)" font-size="7.8" text-anchor="end" fill="#4d4d4d">20</text>
<line x1="302.01" y1="543.40" x2="302.01" y2="546.70" stroke="#000" stroke-width="1.0"/>
<line x1="311.90" y1="543.40" x2="311.90" y2="546.70" stroke="#000" stroke-width="1.0"/>
<line x1="319.56" y1="541.10" x2="319.56" y2="546.70" stroke="#000" stroke-width="1.0"/>
<line x1="325.83" y1="543.40" x2="325.83" y2="546.70" stroke="#000" stroke-width="1.0"/>
<line x1="331.12" y1="543.40" x2="331.12" y2="546.70" stroke="#000" stroke-width="1.0"/>
<line x1="335.71" y1="543.40" x2="335.71" y2="546.70" stroke="#000" stroke-width="1.0"/>
<line x1="339.75" y1="543.40" x2="339.75" y2="546.70" stroke="#000" stroke-width="1.0"/>
<line x1="343.37" y1="538.80" x2="343.37" y2="546.70" stroke="#000" stroke-width="1.0"/>
<line x1="367.19" y1="543.40" x2="367.19" y2="546.70" stroke="#000" stroke-width="1.0"/>
<line x1="381.11" y1="543.40" x2="381.11" y2="546.70" stroke="#000" stroke-width="1.0"/>
<line x1="391.00" y1="543.40" x2="391.00" y2="546.70" stroke="#000" stroke-width="1.0"/>
<line x1="398.66" y1="541.10" x2="398.66" y2="546.70" stroke="#000" stroke-width="1.0"/>
<line x1="404.93" y1="543.40" x2="404.93" y2="546.70" stroke="#000" stroke-width="1.0"/>
<line x1="410.22" y1="543.40" x2="410.22" y2="546.70" stroke="#000" stroke-width="1.0"/>
<line x1="414.81" y1="543.40" x2="414.81" y2="546.70" stroke="#000" stroke-width="1.0"/>
<line x1="418.86" y1="543.40" x2="418.86" y2="546.70" stroke="#000" stroke-width="1.0"/>
<line x1="422.47" y1="538.80" x2="422.47" y2="546.70" stroke="#000" stroke-width="1.0"/>
<line x1="446.29" y1="543.40" x2="446.29" y2="546.70" stroke="#000" stroke-width="1.0"/>
<text x="457.70" y="521.75" font-size="7.6" text-anchor="middle" transform="rotate(90 457.70 521.75)">Unbinned bac</text>
<line x1="294.80" y1="551.50" x2="294.80" y2="602.00" stroke="#222" stroke-width="1.25"/>
<line x1="292.30" y1="599.13" x2="294.80" y2="599.13" stroke="#000" stroke-width="1.0"/>
<text transform="translate(290.60 602.30) scale(1 1.05)" font-size="7.8" text-anchor="end" fill="#4d4d4d">0</text>
<line x1="292.30" y1="586.80" x2="294.80" y2="586.80" stroke="#000" stroke-width="1.0"/>
<text transform="translate(290.60 589.97) scale(1 1.05)" font-size="7.8" text-anchor="end" fill="#4d4d4d">50</text>
<line x1="292.30" y1="574.48" x2="294.80" y2="574.48" stroke="#000" stroke-width="1.0"/>
<text transform="translate(290.60 577.65) scale(1 1.05)" font-size="7.8" text-anchor="end" fill="#4d4d4d">100</text>
<line x1="292.30" y1="562.15" x2="294.80" y2="562.15" stroke="#000" stroke-width="1.0"/>
<text transform="translate(290.60 565.32) scale(1 1.05)" font-size="7.8" text-anchor="end" fill="#4d4d4d">150</text>
<line x1="302.01" y1="598.10" x2="302.01" y2="601.40" stroke="#000" stroke-width="1.0"/>
<line x1="311.90" y1="598.10" x2="311.90" y2="601.40" stroke="#000" stroke-width="1.0"/>
<line x1="319.56" y1="595.80" x2="319.56" y2="601.40" stroke="#000" stroke-width="1.0"/>
<line x1="325.83" y1="598.10" x2="325.83" y2="601.40" stroke="#000" stroke-width="1.0"/>
<line x1="331.12" y1="598.10" x2="331.12" y2="601.40" stroke="#000" stroke-width="1.0"/>
<line x1="335.71" y1="598.10" x2="335.71" y2="601.40" stroke="#000" stroke-width="1.0"/>
<line x1="339.75" y1="598.10" x2="339.75" y2="601.40" stroke="#000" stroke-width="1.0"/>
<line x1="343.37" y1="593.50" x2="343.37" y2="601.40" stroke="#000" stroke-width="1.0"/>
<line x1="367.19" y1="598.10" x2="367.19" y2="601.40" stroke="#000" stroke-width="1.0"/>
<line x1="381.11" y1="598.10" x2="381.11" y2="601.40" stroke="#000" stroke-width="1.0"/>
<line x1="391.00" y1="598.10" x2="391.00" y2="601.40" stroke="#000" stroke-width="1.0"/>
<line x1="398.66" y1="595.80" x2="398.66" y2="601.40" stroke="#000" stroke-width="1.0"/>
<line x1="404.93" y1="598.10" x2="404.93" y2="601.40" stroke="#000" stroke-width="1.0"/>
<line x1="410.22" y1="598.10" x2="410.22" y2="601.40" stroke="#000" stroke-width="1.0"/>
<line x1="414.81" y1="598.10" x2="414.81" y2="601.40" stroke="#000" stroke-width="1.0"/>
<line x1="418.86" y1="598.10" x2="418.86" y2="601.40" stroke="#000" stroke-width="1.0"/>
<line x1="422.47" y1="593.50" x2="422.47" y2="601.40" stroke="#000" stroke-width="1.0"/>
<line x1="446.29" y1="598.10" x2="446.29" y2="601.40" stroke="#000" stroke-width="1.0"/>
<text x="457.70" y="576.45" font-size="7.6" text-anchor="middle" transform="rotate(90 457.70 576.45)">Phage</text>
<line x1="294.20" y1="601.40" x2="453.50" y2="601.40" stroke="#222" stroke-width="1.25"/>
<line x1="303.82" y1="601.40" x2="303.82" y2="603.90" stroke="#000" stroke-width="1.0"/>
<text transform="translate(295.89 613.50) scale(1 1.08)" font-size="7.8" fill="#4d4d4d">10<tspan font-size="5.6" dy="-3.4">3.5</tspan></text>
<line x1="343.37" y1="601.40" x2="343.37" y2="603.90" stroke="#000" stroke-width="1.0"/>
<text transform="translate(337.78 613.50) scale(1 1.08)" font-size="7.8" fill="#4d4d4d">10<tspan font-size="5.6" dy="-3.4">4</tspan></text>
<line x1="382.92" y1="601.40" x2="382.92" y2="603.90" stroke="#000" stroke-width="1.0"/>
<text transform="translate(375.00 613.50) scale(1 1.08)" font-size="7.8" fill="#4d4d4d">10<tspan font-size="5.6" dy="-3.4">4.5</tspan></text>
<line x1="422.47" y1="601.40" x2="422.47" y2="603.90" stroke="#000" stroke-width="1.0"/>
<text transform="translate(416.88 613.50) scale(1 1.08)" font-size="7.8" fill="#4d4d4d">10<tspan font-size="5.6" dy="-3.4">5</tspan></text>
<text transform="translate(374.15 624.80) scale(1 1.05)" font-size="9.5" text-anchor="middle">Length, nt</text>
<text transform="translate(272.70 521.75) rotate(-90) scale(1 1.08)" font-size="9.5" text-anchor="middle">Read count</text>
<text transform="translate(599.80 436.50) scale(1 1.04)" font-size="8.7" text-anchor="middle">942T</text>
<polyline points="526.7,489.7 667.4,489.7" fill="none" stroke="#FF7F00" stroke-opacity="0.6" stroke-width="1.05" stroke-linejoin="round"/>
<polyline points="526.7,444.5 527.2,446.0 527.8,445.1 528.3,448.2 528.9,446.3 529.4,448.1 530.0,450.0 530.5,448.5 531.1,451.4 531.6,451.1 532.2,451.1 532.7,452.0 533.3,452.5 533.8,452.3 534.4,455.5 534.9,453.8 535.5,456.7 536.0,456.8 536.6,454.2 537.1,455.7 537.7,457.2 538.2,459.2 538.8,457.3 539.3,459.7 539.9,459.3 540.4,461.6 541.0,462.9 541.5,462.9 542.1,461.3 542.6,464.3 543.2,463.7 543.7,466.0 544.3,465.2 544.8,467.4 545.4,468.2 545.9,468.0 546.5,468.5 547.0,468.9 547.6,468.5 548.1,467.3 548.7,471.0 549.2,469.3 549.8,468.1 550.3,470.5 550.9,471.1 551.4,470.9 552.0,474.6 552.5,471.9 553.1,475.8 553.6,475.5 554.2,475.0 554.7,476.8 555.3,477.6 555.8,476.7 556.4,479.6 556.9,479.6 557.5,481.2 558.0,481.0 558.6,481.2 559.1,482.4 559.7,482.5 560.2,481.7 560.8,481.6 561.3,481.9 561.9,483.4 562.4,484.2 563.0,484.1 563.5,484.5 564.1,481.6 564.6,483.5 565.2,482.5 565.7,484.7 566.3,484.9 566.8,485.1 567.4,486.5 567.9,484.1 568.5,486.4 569.0,486.0 569.6,484.8 570.1,488.0 570.7,484.5 571.2,486.4 571.8,486.8 572.3,487.2 572.9,488.9 573.4,487.4 574.0,488.9 574.5,486.7 575.1,487.6 575.6,486.4 576.2,488.5 576.7,487.8 577.3,489.4 577.8,486.9 578.4,488.3 578.9,489.7 579.5,486.6 580.0,489.3 580.6,489.4 581.1,489.7 581.7,489.1 582.2,488.9 582.8,489.7 583.3,488.1 583.9,489.7 584.4,489.7 585.0,489.7 585.5,489.1 586.1,487.4 586.6,489.7 587.2,488.5 587.7,489.7 588.3,489.7 588.8,489.7 589.4,489.1 589.9,489.7 590.5,489.1 591.0,488.8 591.6,489.7 592.1,489.7 592.7,489.7 593.2,489.7 593.8,489.2 594.3,489.7 594.9,488.9 595.4,489.7 596.0,487.7 596.5,488.2 597.1,489.7 597.6,488.5 598.2,489.3 598.7,487.9 599.3,489.7 599.8,489.0 667.4,489.7" fill="none" stroke="#1c86ee" stroke-opacity="0.6" stroke-width="1.05" stroke-linejoin="round"/>
<polyline points="526.7,443.6 527.4,447.9 528.1,448.6 528.8,444.7 529.5,449.5 530.2,449.6 530.9,450.2 531.6,447.7 532.3,452.6 533.0,451.2 533.7,454.2 534.4,453.7 535.1,455.6 535.8,456.3 536.5,455.1 537.2,457.6 537.9,459.9 538.6,460.3 539.3,461.2 540.0,458.0 540.7,461.5 541.4,463.4 542.1,461.6 542.8,461.1 543.5,465.5 544.2,465.5 544.9,468.1 545.6,465.2 546.3,465.0 547.0,468.0 547.7,470.0" fill="none" stroke="#1c86ee" stroke-opacity="0.6" stroke-width="1.05" stroke-linejoin="round"/>
<polyline points="526.7,544.4 667.4,544.4" fill="none" stroke="#0000ff" stroke-opacity="0.6" stroke-width="1.05" stroke-linejoin="round"/>
<polyline points="526.7,537.4 527.6,534.2 528.5,535.8 529.4,534.7 530.3,535.6 531.2,535.4 532.1,538.4 533.0,537.5 533.9,540.9 534.8,540.0 535.7,539.8 536.6,539.3 537.5,539.1 538.4,536.3 539.3,538.4 540.2,539.3 541.1,541.2 542.0,541.6 542.9,541.8 543.8,542.0 544.7,543.5 545.6,542.5 546.5,543.9 547.4,544.0 548.3,544.1 549.2,544.3 550.1,543.2 551.0,543.5 551.9,544.2 552.8,543.3 553.7,542.1 554.6,543.3 555.5,543.4 556.4,542.3 557.3,542.1 558.2,542.5 559.1,544.0 560.0,544.4 560.9,544.0 561.8,543.4 562.7,542.2 563.6,542.2 564.5,544.2 565.4,543.9 566.3,543.7 567.2,542.9 568.1,542.8 569.0,543.0 569.9,542.9 570.8,544.4 571.7,543.5 572.6,544.3 573.5,544.0 574.4,544.4 667.4,544.4" fill="none" stroke="#0000ff" stroke-opacity="0.6" stroke-width="1.05" stroke-linejoin="round"/>
<polyline points="526.7,534.5 527.3,534.5 527.9,535.3 528.5,532.9 529.1,532.8 529.7,535.3 530.3,535.2 530.9,535.4 531.5,536.4 532.1,536.8 532.7,536.5 533.3,538.9 533.9,540.5 534.5,540.0 535.1,540.0 535.7,538.2 536.3,538.1 536.9,536.4 537.5,538.4 538.1,536.3 538.7,537.1 539.3,541.1 539.9,539.1 540.5,542.9 541.1,542.1 541.7,543.0 542.3,542.7 542.9,541.0 543.5,543.7 544.1,542.0 544.7,542.9 548.0,544.4" fill="none" stroke="#0000ff" stroke-opacity="0.6" stroke-width="1.05" stroke-linejoin="round"/>
<polyline points="526.7,542.4 527.2,539.1 527.8,542.6 528.3,539.4 528.9,540.5 529.4,542.4 530.0,540.1 530.5,540.8 531.1,539.3 531.6,542.8 532.2,543.0 532.7,539.4 533.3,539.2 533.8,540.8 534.4,541.0 534.9,542.2 535.5,540.4 536.0,541.6 536.6,539.8 537.1,540.2 537.7,539.7 538.2,541.9 538.8,542.1 539.3,542.4 539.9,544.0 540.4,541.3 541.0,541.6 541.5,542.2 542.1,544.4 542.6,541.8 543.2,541.8 543.7,542.6 544.3,543.8 544.8,542.1 545.4,541.8 545.9,544.4 546.5,543.8 547.0,543.9 547.6,541.6 550.0,544.4" fill="none" stroke="#0000ff" stroke-opacity="0.6" stroke-width="1.05" stroke-linejoin="round"/>
<polyline points="526.7,542.5 527.3,543.6 527.9,541.9 528.5,542.9 529.1,543.9 529.7,542.2 530.3,543.1 530.9,543.1 531.5,543.7 532.1,540.4 532.7,541.0 533.3,544.3 533.9,543.4 534.5,541.5 535.1,543.4 535.7,541.2 536.3,542.0 536.9,542.3 537.5,541.5 538.1,541.2 538.7,542.7 539.3,543.3 539.9,542.0 540.5,543.4 541.1,544.4 541.7,541.0 542.3,542.0 542.9,541.2 543.5,543.6 544.1,542.6 544.7,542.7 545.3,542.0 545.9,544.2 546.5,544.2 547.1,543.0 547.7,544.4 548.3,542.2 548.9,542.7 549.5,544.4 550.1,542.4 550.7,542.1 551.3,541.7 551.9,544.3 552.5,544.4 553.1,541.9 553.7,543.7 554.3,543.4 554.9,543.2 555.5,542.8 556.1,543.5 556.7,542.6 557.3,544.4 557.9,542.9 558.5,544.3 559.1,544.4 559.7,544.4 667.4,544.4" fill="none" stroke="#0000ff" stroke-opacity="0.6" stroke-width="1.05" stroke-linejoin="round"/>
<polyline points="526.7,502.7 527.2,499.2 527.8,502.0 528.3,502.2 528.9,505.3 529.4,502.9 530.0,503.8 530.5,505.1 531.1,504.7 531.6,508.1 532.2,508.5 532.7,508.2 533.3,505.3 533.8,510.7 534.4,508.9 534.9,509.7 535.5,510.0 536.0,510.4 536.6,513.1 537.1,510.2 537.7,510.1 538.2,515.2 538.8,512.0 539.3,512.7 539.9,514.2 540.4,519.2 541.0,519.0 541.5,519.8 542.1,521.8 542.6,521.6 543.2,520.5 543.7,525.0 544.3,524.2 544.8,522.8 545.4,525.0 545.9,530.5 546.5,529.6 547.0,528.8 547.6,529.9 548.1,532.5 548.7,529.0 549.2,531.5 549.8,528.8 550.3,531.7 550.9,530.8 551.4,531.8 552.0,532.5 552.5,533.2 553.1,536.1 553.6,533.8 554.2,532.5 554.7,537.2 555.3,538.1 555.8,538.1 556.4,535.7 556.9,536.4 557.5,538.9 558.0,535.7 558.6,535.9 559.1,538.6 559.7,537.5 560.2,539.1 560.8,537.8 561.3,542.3 561.9,540.3 562.4,539.8 563.0,540.0 563.5,540.1 564.1,543.0 564.6,543.2 565.2,543.4 565.7,544.3 566.3,542.8 566.8,541.8 567.4,542.2 567.9,540.8 568.5,542.2 569.0,543.0 569.6,544.4 570.1,543.9 570.7,541.5 571.2,543.8 571.8,542.8 572.3,544.4 572.9,544.4 573.4,544.2 574.0,544.4 574.5,543.4 575.1,542.6 575.6,544.4 576.2,544.4 576.7,544.2 577.3,544.4 577.8,544.4 578.4,544.4 578.9,541.9 579.5,544.4 580.0,541.9 580.6,542.5 581.1,542.1 581.7,542.4 582.2,544.4 582.8,544.4 583.3,542.2 583.9,542.6 584.4,544.4 585.0,543.3 585.5,542.7 586.1,544.4 586.6,543.0 587.2,542.1 587.7,544.3 588.3,544.4 588.8,541.7 589.4,544.4 589.9,542.6 590.5,544.4 591.0,544.1 591.6,543.5 592.1,543.4 592.7,542.1 593.2,541.9 593.8,544.3 594.3,544.3 594.9,542.6 595.4,542.3 596.0,544.1 596.5,544.4 597.1,542.1 597.6,544.4 598.2,544.4 598.7,543.3 599.3,543.7 599.8,544.4 667.4,544.4" fill="none" stroke="#1c86ee" stroke-opacity="0.6" stroke-width="1.05" stroke-linejoin="round"/>
<polyline points="526.7,599.1 667.4,599.1" fill="none" stroke="#ff0000" stroke-opacity="0.6" stroke-width="1.05" stroke-linejoin="round"/>
<polyline points="526.7,599.1 528.2,598.7 529.7,599.1 531.2,598.8 532.7,598.7 534.2,598.8 535.7,599.0 537.2,599.0 538.7,598.8 540.2,598.6 541.7,598.8 543.2,598.9 544.7,598.9 546.2,598.9 547.7,598.8 549.2,598.9 550.7,598.9 552.2,598.8 553.7,598.8 555.2,599.1 556.7,599.0 558.2,598.8 559.7,598.8 561.2,598.7 562.7,599.1 564.2,599.0 565.7,598.9 567.2,598.8 568.7,599.0 570.2,598.7 571.7,598.9 573.2,599.0 574.7,598.7 576.2,599.1 577.7,598.7 579.2,599.0 580.7,598.9 582.2,599.0 583.7,598.9 585.2,598.7 586.7,599.0 588.2,598.9 589.7,598.9 591.2,599.0 592.7,599.1 594.2,598.8 595.7,598.9 597.2,598.9 598.7,598.8 600.2,599.1 601.7,598.7 603.2,598.7 604.7,599.0 606.2,598.7 607.7,598.8 609.2,599.0 610.7,599.0 612.2,599.1 613.7,598.9 615.2,598.9 616.7,598.9 618.2,598.9 619.7,598.9 621.2,599.1 622.7,599.0 624.2,598.9 625.7,598.9 627.2,599.0 628.7,599.0 630.2,598.6 631.7,598.7 633.2,598.8 634.7,599.0 636.2,598.9 637.7,598.8 639.2,598.8 640.7,598.8 642.2,599.1 643.7,598.8 645.2,599.0 646.7,599.0 648.2,598.9 649.7,598.7 651.2,598.9 652.7,598.8 654.2,599.0 655.7,598.7 657.2,599.0 658.7,598.9 660.2,598.8 661.7,598.8 663.2,598.9 664.7,598.8 666.2,599.1" fill="none" stroke="#ff0000" stroke-opacity="0.6" stroke-width="1.05" stroke-linejoin="round"/>
<polyline points="526.7,554.5 527.5,554.2 528.3,554.4 529.1,554.8 529.9,555.6 530.7,556.4 531.5,555.7 532.3,555.8 533.1,556.4 533.9,556.2 534.7,557.7 535.5,559.1 536.3,558.4 537.1,560.1 537.9,559.8 538.7,561.8 539.5,561.9 540.3,562.3 541.1,562.4 541.9,563.4 542.7,565.5 543.5,565.0 544.3,566.5 545.1,567.2 545.9,567.8 546.7,568.8 547.5,568.2 548.3,569.7 549.1,569.1 549.9,569.8 550.7,571.1 551.5,570.7 552.3,571.1 553.1,572.2 553.9,572.9 554.7,572.2 555.5,573.8 556.3,574.0 557.1,573.4 557.9,574.8 558.7,574.2 559.5,575.6 560.3,576.1 561.1,576.1 561.9,576.5 562.7,577.7 563.5,577.0 564.3,577.9 565.1,578.4 565.9,577.9 566.7,579.8 567.5,578.8 568.3,580.3 569.1,580.0 569.9,579.5 570.7,580.4 571.5,581.3 572.3,581.4 573.1,582.5 573.9,581.3 574.7,583.1 575.5,583.5 576.3,582.6 577.1,583.6 577.9,583.2 578.7,584.7 579.5,585.3 580.3,585.1 581.1,586.4 581.9,585.9 582.7,586.0 583.5,587.2 584.3,588.2 585.1,587.8 585.9,588.1 586.7,589.4 587.5,589.9 588.3,589.3 589.1,589.6 589.9,590.7 590.7,591.2 591.5,590.3 592.3,591.4 593.1,591.7 593.9,590.8 594.7,592.2 595.5,592.1 596.3,591.6 597.1,591.9 597.9,592.4 598.7,593.4 599.5,592.7 600.3,593.6 601.1,594.3 601.9,593.9 602.7,594.2 603.5,593.3 604.3,595.0 605.1,595.1 605.9,595.0 606.7,594.0 607.5,594.8 608.3,595.2 609.1,594.3 609.9,594.4 610.7,595.9 611.5,595.4 612.3,596.1 613.1,595.3 613.9,596.3 614.7,596.0 615.5,595.1 616.3,595.3 617.1,596.6 617.9,595.2 618.7,596.8 619.5,596.3 620.3,596.9 621.1,595.7 621.9,595.5 622.7,597.1 623.5,596.5 624.3,596.1 625.1,596.8 625.9,596.0 626.7,597.1 627.5,597.0 628.3,597.1 629.1,596.7 629.9,596.8 630.7,596.6 631.5,596.3 632.3,597.2 633.1,596.9 633.9,597.1 634.7,596.7 635.5,597.9 636.3,597.7 637.1,596.9 637.9,597.6 638.7,597.6 639.5,598.4 640.3,597.6 641.1,597.6 642.3,594.0 643.0,588.7 643.7,594.0 644.5,598.6 667.4,599.1" fill="none" stroke="#ff0000" stroke-opacity="0.6" stroke-width="1.05" stroke-linejoin="round"/>
<polyline points="526.7,589.3 527.6,590.1 528.5,589.4 529.4,590.2 530.3,591.0 531.2,590.1 532.1,591.2 533.0,590.8 533.9,591.2 534.8,590.1 535.7,591.2 536.6,591.0 537.5,591.4 538.4,591.3 539.3,592.3 540.2,592.1 541.1,592.5 542.0,592.6 542.9,592.7 543.8,593.3 544.7,593.2 545.6,593.4 546.5,593.0 547.4,593.8 548.3,593.5 549.2,594.3 550.1,594.3 551.0,595.0 551.9,595.0 552.8,594.9 553.7,595.3 554.6,595.1 555.5,596.4 556.4,596.4 557.3,595.9 558.2,595.9 559.1,596.4 560.0,596.8 560.9,596.7 561.8,597.6 562.7,596.6 563.6,597.2 564.5,597.6 565.4,597.0 566.3,597.6 567.2,597.8 568.1,597.5 569.0,598.5 569.9,597.7 570.8,597.8 571.7,598.1 572.6,597.7 573.5,598.1 574.4,597.7 575.3,597.6 576.2,598.5 577.1,598.0 578.0,597.9 578.9,598.1 579.8,598.4 580.7,598.0 581.6,598.8 582.5,598.9 583.4,599.2 584.3,598.0 585.2,598.4 586.1,598.9 587.0,599.2 587.9,598.3 588.8,599.2 589.7,598.1 590.6,598.8 591.5,598.1 592.4,598.3 593.3,599.1 594.2,598.8 595.1,599.5 596.0,599.5 596.9,598.8 597.8,599.0 598.7,598.8 599.6,598.5 667.4,599.1" fill="none" stroke="#ff0000" stroke-opacity="0.6" stroke-width="1.05" stroke-linejoin="round"/>
<polyline points="526.7,594.6 527.7,594.2 528.7,594.8 529.7,595.3 530.7,594.3 531.7,594.8 532.7,594.8 533.7,594.8 534.7,595.6 535.7,595.8 536.7,595.7 537.7,595.3 538.7,595.9 539.7,595.1 540.7,595.6 541.7,595.7 542.7,595.4 543.7,596.1 544.7,596.0 545.7,596.1 546.7,595.9 547.7,596.8 548.7,596.3 549.7,596.3 550.7,597.4 551.7,596.9 552.7,597.4 553.7,597.6 554.7,597.8 555.7,598.1 556.7,597.3 557.7,597.7 558.7,597.3 559.7,598.1 560.7,597.6 561.7,597.7 562.7,597.7 563.7,598.3 564.7,598.1 565.7,598.6 566.7,598.3 567.7,598.4 568.7,598.5 569.7,598.2 570.7,598.3 571.7,598.2 572.7,598.1 573.7,599.0 574.7,598.7 575.7,598.5 576.7,598.7 577.7,598.2 578.7,599.1 579.7,598.7 580.7,598.5 581.7,599.0 582.7,598.8 583.7,599.1 584.7,598.4 585.7,599.4 586.7,599.4 587.7,598.5 588.7,599.0 589.7,598.4 667.4,599.1" fill="none" stroke="#ff0000" stroke-opacity="0.6" stroke-width="1.05" stroke-linejoin="round"/>
<line x1="526.73" y1="489.73" x2="667.37" y2="489.73" stroke="#e0a070" stroke-width="1.3"/>
<line x1="526.73" y1="544.43" x2="667.37" y2="544.43" stroke="#1e1ee6" stroke-width="1.9"/>
<line x1="526.73" y1="599.13" x2="667.37" y2="599.13" stroke="#ff1414" stroke-width="1.6"/>
<line x1="519.70" y1="442.10" x2="519.70" y2="492.00" stroke="#222" stroke-width="1.25"/>
<line x1="517.20" y1="489.73" x2="519.70" y2="489.73" stroke="#000" stroke-width="1.0"/>
<text transform="translate(515.50 492.90) scale(1 1.05)" font-size="7.8" text-anchor="end" fill="#4d4d4d">0</text>
<line x1="517.20" y1="476.71" x2="519.70" y2="476.71" stroke="#000" stroke-width="1.0"/>
<text transform="translate(515.50 479.88) scale(1 1.05)" font-size="7.8" text-anchor="end" fill="#4d4d4d">300</text>
<line x1="517.20" y1="463.69" x2="519.70" y2="463.69" stroke="#000" stroke-width="1.0"/>
<text transform="translate(515.50 466.85) scale(1 1.05)" font-size="7.8" text-anchor="end" fill="#4d4d4d">600</text>
<line x1="517.20" y1="450.66" x2="519.70" y2="450.66" stroke="#000" stroke-width="1.0"/>
<text transform="translate(515.50 453.83) scale(1 1.05)" font-size="7.8" text-anchor="end" fill="#4d4d4d">900</text>
<line x1="526.73" y1="488.70" x2="526.73" y2="492.00" stroke="#000" stroke-width="1.0"/>
<line x1="536.37" y1="488.70" x2="536.37" y2="492.00" stroke="#000" stroke-width="1.0"/>
<line x1="543.84" y1="486.40" x2="543.84" y2="492.00" stroke="#000" stroke-width="1.0"/>
<line x1="549.94" y1="488.70" x2="549.94" y2="492.00" stroke="#000" stroke-width="1.0"/>
<line x1="555.11" y1="488.70" x2="555.11" y2="492.00" stroke="#000" stroke-width="1.0"/>
<line x1="559.58" y1="488.70" x2="559.58" y2="492.00" stroke="#000" stroke-width="1.0"/>
<line x1="563.52" y1="488.70" x2="563.52" y2="492.00" stroke="#000" stroke-width="1.0"/>
<line x1="567.05" y1="484.10" x2="567.05" y2="492.00" stroke="#000" stroke-width="1.0"/>
<line x1="590.26" y1="488.70" x2="590.26" y2="492.00" stroke="#000" stroke-width="1.0"/>
<line x1="603.84" y1="488.70" x2="603.84" y2="492.00" stroke="#000" stroke-width="1.0"/>
<line x1="613.47" y1="488.70" x2="613.47" y2="492.00" stroke="#000" stroke-width="1.0"/>
<line x1="620.95" y1="486.40" x2="620.95" y2="492.00" stroke="#000" stroke-width="1.0"/>
<line x1="627.05" y1="488.70" x2="627.05" y2="492.00" stroke="#000" stroke-width="1.0"/>
<line x1="632.21" y1="488.70" x2="632.21" y2="492.00" stroke="#000" stroke-width="1.0"/>
<line x1="636.68" y1="488.70" x2="636.68" y2="492.00" stroke="#000" stroke-width="1.0"/>
<line x1="640.63" y1="488.70" x2="640.63" y2="492.00" stroke="#000" stroke-width="1.0"/>
<line x1="644.16" y1="484.10" x2="644.16" y2="492.00" stroke="#000" stroke-width="1.0"/>
<line x1="667.37" y1="488.70" x2="667.37" y2="492.00" stroke="#000" stroke-width="1.0"/>
<text x="678.60" y="467.05" font-size="7.6" text-anchor="middle" transform="rotate(90 678.60 467.05)">MAGs</text>
<line x1="519.70" y1="496.80" x2="519.70" y2="546.70" stroke="#222" stroke-width="1.25"/>
<line x1="517.20" y1="544.43" x2="519.70" y2="544.43" stroke="#000" stroke-width="1.0"/>
<text transform="translate(515.50 547.60) scale(1 1.05)" font-size="7.8" text-anchor="end" fill="#4d4d4d">0</text>
<line x1="517.20" y1="529.80" x2="519.70" y2="529.80" stroke="#000" stroke-width="1.0"/>
<text transform="translate(515.50 532.97) scale(1 1.05)" font-size="7.8" text-anchor="end" fill="#4d4d4d">50</text>
<line x1="517.20" y1="515.16" x2="519.70" y2="515.16" stroke="#000" stroke-width="1.0"/>
<text transform="translate(515.50 518.33) scale(1 1.05)" font-size="7.8" text-anchor="end" fill="#4d4d4d">100</text>
<line x1="517.20" y1="500.53" x2="519.70" y2="500.53" stroke="#000" stroke-width="1.0"/>
<text transform="translate(515.50 503.70) scale(1 1.05)" font-size="7.8" text-anchor="end" fill="#4d4d4d">150</text>
<line x1="526.73" y1="543.40" x2="526.73" y2="546.70" stroke="#000" stroke-width="1.0"/>
<line x1="536.37" y1="543.40" x2="536.37" y2="546.70" stroke="#000" stroke-width="1.0"/>
<line x1="543.84" y1="541.10" x2="543.84" y2="546.70" stroke="#000" stroke-width="1.0"/>
<line x1="549.94" y1="543.40" x2="549.94" y2="546.70" stroke="#000" stroke-width="1.0"/>
<line x1="555.11" y1="543.40" x2="555.11" y2="546.70" stroke="#000" stroke-width="1.0"/>
<line x1="559.58" y1="543.40" x2="559.58" y2="546.70" stroke="#000" stroke-width="1.0"/>
<line x1="563.52" y1="543.40" x2="563.52" y2="546.70" stroke="#000" stroke-width="1.0"/>
<line x1="567.05" y1="538.80" x2="567.05" y2="546.70" stroke="#000" stroke-width="1.0"/>
<line x1="590.26" y1="543.40" x2="590.26" y2="546.70" stroke="#000" stroke-width="1.0"/>
<line x1="603.84" y1="543.40" x2="603.84" y2="546.70" stroke="#000" stroke-width="1.0"/>
<line x1="613.47" y1="543.40" x2="613.47" y2="546.70" stroke="#000" stroke-width="1.0"/>
<line x1="620.95" y1="541.10" x2="620.95" y2="546.70" stroke="#000" stroke-width="1.0"/>
<line x1="627.05" y1="543.40" x2="627.05" y2="546.70" stroke="#000" stroke-width="1.0"/>
<line x1="632.21" y1="543.40" x2="632.21" y2="546.70" stroke="#000" stroke-width="1.0"/>
<line x1="636.68" y1="543.40" x2="636.68" y2="546.70" stroke="#000" stroke-width="1.0"/>
<line x1="640.63" y1="543.40" x2="640.63" y2="546.70" stroke="#000" stroke-width="1.0"/>
<line x1="644.16" y1="538.80" x2="644.16" y2="546.70" stroke="#000" stroke-width="1.0"/>
<line x1="667.37" y1="543.40" x2="667.37" y2="546.70" stroke="#000" stroke-width="1.0"/>
<text x="678.60" y="521.75" font-size="7.6" text-anchor="middle" transform="rotate(90 678.60 521.75)">Unbinned bac</text>
<line x1="519.70" y1="551.50" x2="519.70" y2="602.00" stroke="#222" stroke-width="1.25"/>
<line x1="517.20" y1="599.13" x2="519.70" y2="599.13" stroke="#000" stroke-width="1.0"/>
<text transform="translate(515.50 602.30) scale(1 1.05)" font-size="7.8" text-anchor="end" fill="#4d4d4d">0</text>
<line x1="517.20" y1="589.71" x2="519.70" y2="589.71" stroke="#000" stroke-width="1.0"/>
<text transform="translate(515.50 592.88) scale(1 1.05)" font-size="7.8" text-anchor="end" fill="#4d4d4d">500</text>
<line x1="517.20" y1="580.29" x2="519.70" y2="580.29" stroke="#000" stroke-width="1.0"/>
<text transform="translate(515.50 583.46) scale(1 1.05)" font-size="7.8" text-anchor="end" fill="#4d4d4d">1000</text>
<line x1="517.20" y1="570.87" x2="519.70" y2="570.87" stroke="#000" stroke-width="1.0"/>
<text transform="translate(515.50 574.04) scale(1 1.05)" font-size="7.8" text-anchor="end" fill="#4d4d4d">1500</text>
<line x1="517.20" y1="561.45" x2="519.70" y2="561.45" stroke="#000" stroke-width="1.0"/>
<text transform="translate(515.50 564.62) scale(1 1.05)" font-size="7.8" text-anchor="end" fill="#4d4d4d">2000</text>
<line x1="517.20" y1="552.04" x2="519.70" y2="552.04" stroke="#000" stroke-width="1.0"/>
<text transform="translate(515.50 555.20) scale(1 1.05)" font-size="7.8" text-anchor="end" fill="#4d4d4d">2500</text>
<line x1="526.73" y1="598.10" x2="526.73" y2="601.40" stroke="#000" stroke-width="1.0"/>
<line x1="536.37" y1="598.10" x2="536.37" y2="601.40" stroke="#000" stroke-width="1.0"/>
<line x1="543.84" y1="595.80" x2="543.84" y2="601.40" stroke="#000" stroke-width="1.0"/>
<line x1="549.94" y1="598.10" x2="549.94" y2="601.40" stroke="#000" stroke-width="1.0"/>
<line x1="555.11" y1="598.10" x2="555.11" y2="601.40" stroke="#000" stroke-width="1.0"/>
<line x1="559.58" y1="598.10" x2="559.58" y2="601.40" stroke="#000" stroke-width="1.0"/>
<line x1="563.52" y1="598.10" x2="563.52" y2="601.40" stroke="#000" stroke-width="1.0"/>
<line x1="567.05" y1="593.50" x2="567.05" y2="601.40" stroke="#000" stroke-width="1.0"/>
<line x1="590.26" y1="598.10" x2="590.26" y2="601.40" stroke="#000" stroke-width="1.0"/>
<line x1="603.84" y1="598.10" x2="603.84" y2="601.40" stroke="#000" stroke-width="1.0"/>
<line x1="613.47" y1="598.10" x2="613.47" y2="601.40" stroke="#000" stroke-width="1.0"/>
<line x1="620.95" y1="595.80" x2="620.95" y2="601.40" stroke="#000" stroke-width="1.0"/>
<line x1="627.05" y1="598.10" x2="627.05" y2="601.40" stroke="#000" stroke-width="1.0"/>
<line x1="632.21" y1="598.10" x2="632.21" y2="601.40" stroke="#000" stroke-width="1.0"/>
<line x1="636.68" y1="598.10" x2="636.68" y2="601.40" stroke="#000" stroke-width="1.0"/>
<line x1="640.63" y1="598.10" x2="640.63" y2="601.40" stroke="#000" stroke-width="1.0"/>
<line x1="644.16" y1="593.50" x2="644.16" y2="601.40" stroke="#000" stroke-width="1.0"/>
<line x1="667.37" y1="598.10" x2="667.37" y2="601.40" stroke="#000" stroke-width="1.0"/>
<text x="678.60" y="576.45" font-size="7.6" text-anchor="middle" transform="rotate(90 678.60 576.45)">Phage</text>
<line x1="519.10" y1="601.40" x2="674.40" y2="601.40" stroke="#222" stroke-width="1.25"/>
<line x1="528.50" y1="601.40" x2="528.50" y2="603.90" stroke="#000" stroke-width="1.0"/>
<text transform="translate(520.57 613.50) scale(1 1.08)" font-size="7.8" fill="#4d4d4d">10<tspan font-size="5.6" dy="-3.4">3.5</tspan></text>
<line x1="567.05" y1="601.40" x2="567.05" y2="603.90" stroke="#000" stroke-width="1.0"/>
<text transform="translate(561.46 613.50) scale(1 1.08)" font-size="7.8" fill="#4d4d4d">10<tspan font-size="5.6" dy="-3.4">4</tspan></text>
<line x1="605.60" y1="601.40" x2="605.60" y2="603.90" stroke="#000" stroke-width="1.0"/>
<text transform="translate(597.67 613.50) scale(1 1.08)" font-size="7.8" fill="#4d4d4d">10<tspan font-size="5.6" dy="-3.4">4.5</tspan></text>
<line x1="644.16" y1="601.40" x2="644.16" y2="603.90" stroke="#000" stroke-width="1.0"/>
<text transform="translate(638.56 613.50) scale(1 1.08)" font-size="7.8" fill="#4d4d4d">10<tspan font-size="5.6" dy="-3.4">5</tspan></text>
<text transform="translate(597.10 624.80) scale(1 1.05)" font-size="9.5" text-anchor="middle">Length, nt</text>
<text transform="translate(493.30 521.75) rotate(-90) scale(1 1.08)" font-size="9.5" text-anchor="middle">Read count</text>
<text x="312.4" y="560.2" font-size="6.95">crAssphage (<tspan font-style="italic">Carjivirus communis</tspan>)</text>
<line x1="409.6" y1="562.6" x2="418.3" y2="572.0" stroke="#000" stroke-width="0.9"/>
<polygon points="419.6,573.6 415.2,571.4 417.9,568.9" fill="#000"/>
</svg>
</body></html>
